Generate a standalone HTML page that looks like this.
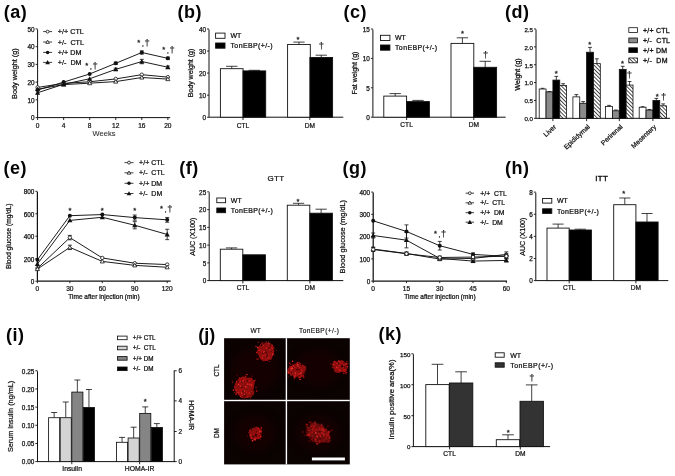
<!DOCTYPE html>
<html><head><meta charset="utf-8"><title>Figure</title>
<style>
html,body{margin:0;padding:0;background:#fff;}
body{width:675px;height:476px;overflow:hidden;}
svg{display:block;font-family:"Liberation Sans",sans-serif;}
</style></head><body>
<svg width="675" height="476" viewBox="0 0 675 476">
<rect width="675" height="476" fill="#fff"/>
<text x="3.70" y="17.80" font-size="18" text-anchor="start" font-weight="bold" fill="#050505" stroke="#050505" stroke-width="0" letter-spacing="0.5">(a)</text>
<line x1="37.60" y1="29.35" x2="37.60" y2="117.15" stroke="#111" stroke-width="1.0" />
<line x1="35.60" y1="117.60" x2="37.60" y2="117.60" stroke="#111" stroke-width="0.9" />
<text x="34.60" y="120.45" font-size="6.4" text-anchor="end" font-weight="normal" fill="#111" stroke="#111" stroke-width="0.25" >0</text>
<line x1="35.60" y1="99.86" x2="37.60" y2="99.86" stroke="#111" stroke-width="0.9" />
<text x="34.60" y="102.71" font-size="6.4" text-anchor="end" font-weight="normal" fill="#111" stroke="#111" stroke-width="0.25" >10</text>
<line x1="35.60" y1="82.12" x2="37.60" y2="82.12" stroke="#111" stroke-width="0.9" />
<text x="34.60" y="84.97" font-size="6.4" text-anchor="end" font-weight="normal" fill="#111" stroke="#111" stroke-width="0.25" >20</text>
<line x1="35.60" y1="64.38" x2="37.60" y2="64.38" stroke="#111" stroke-width="0.9" />
<text x="34.60" y="67.23" font-size="6.4" text-anchor="end" font-weight="normal" fill="#111" stroke="#111" stroke-width="0.25" >30</text>
<line x1="35.60" y1="46.64" x2="37.60" y2="46.64" stroke="#111" stroke-width="0.9" />
<text x="34.60" y="49.49" font-size="6.4" text-anchor="end" font-weight="normal" fill="#111" stroke="#111" stroke-width="0.25" >40</text>
<line x1="35.60" y1="28.90" x2="37.60" y2="28.90" stroke="#111" stroke-width="0.9" />
<text x="34.60" y="31.75" font-size="6.4" text-anchor="end" font-weight="normal" fill="#111" stroke="#111" stroke-width="0.25" >50</text>
<line x1="37.15" y1="117.60" x2="170.20" y2="117.60" stroke="#111" stroke-width="1.0" />
<line x1="37.60" y1="117.60" x2="37.60" y2="120.00" stroke="#111" stroke-width="0.9" />
<text x="37.60" y="127.50" font-size="6.6" text-anchor="middle" font-weight="normal" fill="#111" stroke="#111" stroke-width="0.22" >0</text>
<line x1="63.65" y1="117.60" x2="63.65" y2="120.00" stroke="#111" stroke-width="0.9" />
<text x="63.65" y="127.50" font-size="6.6" text-anchor="middle" font-weight="normal" fill="#111" stroke="#111" stroke-width="0.22" >4</text>
<line x1="89.70" y1="117.60" x2="89.70" y2="120.00" stroke="#111" stroke-width="0.9" />
<text x="89.70" y="127.50" font-size="6.6" text-anchor="middle" font-weight="normal" fill="#111" stroke="#111" stroke-width="0.22" >8</text>
<line x1="115.75" y1="117.60" x2="115.75" y2="120.00" stroke="#111" stroke-width="0.9" />
<text x="115.75" y="127.50" font-size="6.6" text-anchor="middle" font-weight="normal" fill="#111" stroke="#111" stroke-width="0.22" >12</text>
<line x1="141.80" y1="117.60" x2="141.80" y2="120.00" stroke="#111" stroke-width="0.9" />
<text x="141.80" y="127.50" font-size="6.6" text-anchor="middle" font-weight="normal" fill="#111" stroke="#111" stroke-width="0.22" >16</text>
<line x1="167.85" y1="117.60" x2="167.85" y2="120.00" stroke="#111" stroke-width="0.9" />
<text x="167.85" y="127.50" font-size="6.6" text-anchor="middle" font-weight="normal" fill="#111" stroke="#111" stroke-width="0.22" >20</text>
<text x="104.00" y="136.30" font-size="7.5" text-anchor="middle" font-weight="normal" fill="#333" stroke="#333" stroke-width="0.1" >Weeks</text>
<text x="17.20" y="73.60" font-size="7.3" text-anchor="middle" font-weight="normal" fill="#111" stroke="#111" stroke-width="0.24" transform="rotate(-90 17.20 73.60)" >Body weight (g)</text>
<polyline points="37.60,87.44 63.65,83.36 89.70,81.77 115.75,78.93 141.80,74.67 167.85,77.15" fill="none" stroke="#111" stroke-width="0.95"/>
<circle cx="37.60" cy="87.44" r="1.70" fill="#fff" stroke="#111" stroke-width="0.8"/>
<circle cx="63.65" cy="83.36" r="1.70" fill="#fff" stroke="#111" stroke-width="0.8"/>
<circle cx="89.70" cy="81.77" r="1.70" fill="#fff" stroke="#111" stroke-width="0.8"/>
<circle cx="115.75" cy="78.93" r="1.70" fill="#fff" stroke="#111" stroke-width="0.8"/>
<circle cx="141.80" cy="74.67" r="1.70" fill="#fff" stroke="#111" stroke-width="0.8"/>
<circle cx="167.85" cy="77.15" r="1.70" fill="#fff" stroke="#111" stroke-width="0.8"/>
<polyline points="37.60,89.22 63.65,84.60 89.70,83.18 115.75,81.59 141.80,77.51 167.85,79.10" fill="none" stroke="#111" stroke-width="0.95"/>
<polygon points="37.60,87.17 35.55,90.75 39.65,90.75" fill="#fff" stroke="#111" stroke-width="0.8"/>
<polygon points="63.65,82.55 61.60,86.14 65.70,86.14" fill="#fff" stroke="#111" stroke-width="0.8"/>
<polygon points="89.70,81.13 87.65,84.72 91.75,84.72" fill="#fff" stroke="#111" stroke-width="0.8"/>
<polygon points="115.75,79.54 113.70,83.13 117.80,83.13" fill="#fff" stroke="#111" stroke-width="0.8"/>
<polygon points="141.80,75.46 139.75,79.05 143.85,79.05" fill="#fff" stroke="#111" stroke-width="0.8"/>
<polygon points="167.85,77.05 165.80,80.64 169.90,80.64" fill="#fff" stroke="#111" stroke-width="0.8"/>
<polyline points="37.60,90.10 63.65,82.12 89.70,73.96 115.75,63.32 141.80,52.49 167.85,58.35" fill="none" stroke="#111" stroke-width="0.95"/>
<line x1="115.75" y1="62.12" x2="115.75" y2="64.52" stroke="#111" stroke-width="0.8" />
<line x1="113.75" y1="62.12" x2="117.75" y2="62.12" stroke="#111" stroke-width="0.8" />
<line x1="113.75" y1="64.52" x2="117.75" y2="64.52" stroke="#111" stroke-width="0.8" />
<line x1="141.80" y1="50.89" x2="141.80" y2="54.09" stroke="#111" stroke-width="0.8" />
<line x1="139.80" y1="50.89" x2="143.80" y2="50.89" stroke="#111" stroke-width="0.8" />
<line x1="139.80" y1="54.09" x2="143.80" y2="54.09" stroke="#111" stroke-width="0.8" />
<line x1="167.85" y1="57.15" x2="167.85" y2="59.55" stroke="#111" stroke-width="0.8" />
<line x1="165.85" y1="57.15" x2="169.85" y2="57.15" stroke="#111" stroke-width="0.8" />
<line x1="165.85" y1="59.55" x2="169.85" y2="59.55" stroke="#111" stroke-width="0.8" />
<circle cx="37.60" cy="90.10" r="2.00" fill="#111"/>
<circle cx="63.65" cy="82.12" r="2.00" fill="#111"/>
<circle cx="89.70" cy="73.96" r="2.00" fill="#111"/>
<circle cx="115.75" cy="63.32" r="2.00" fill="#111"/>
<circle cx="141.80" cy="52.49" r="2.00" fill="#111"/>
<circle cx="167.85" cy="58.35" r="2.00" fill="#111"/>
<polyline points="37.60,92.76 63.65,84.25 89.70,78.75 115.75,69.35 141.80,61.54 167.85,67.22" fill="none" stroke="#111" stroke-width="0.95"/>
<line x1="115.75" y1="68.15" x2="115.75" y2="70.55" stroke="#111" stroke-width="0.8" />
<line x1="113.75" y1="68.15" x2="117.75" y2="68.15" stroke="#111" stroke-width="0.8" />
<line x1="113.75" y1="70.55" x2="117.75" y2="70.55" stroke="#111" stroke-width="0.8" />
<line x1="141.80" y1="59.34" x2="141.80" y2="63.74" stroke="#111" stroke-width="0.8" />
<line x1="139.80" y1="59.34" x2="143.80" y2="59.34" stroke="#111" stroke-width="0.8" />
<line x1="139.80" y1="63.74" x2="143.80" y2="63.74" stroke="#111" stroke-width="0.8" />
<line x1="167.85" y1="66.02" x2="167.85" y2="68.42" stroke="#111" stroke-width="0.8" />
<line x1="165.85" y1="66.02" x2="169.85" y2="66.02" stroke="#111" stroke-width="0.8" />
<line x1="165.85" y1="68.42" x2="169.85" y2="68.42" stroke="#111" stroke-width="0.8" />
<polygon points="37.60,90.16 35.00,94.71 40.20,94.71" fill="#111"/>
<polygon points="63.65,81.65 61.05,86.20 66.25,86.20" fill="#111"/>
<polygon points="89.70,76.15 87.10,80.70 92.30,80.70" fill="#111"/>
<polygon points="115.75,66.75 113.15,71.30 118.35,71.30" fill="#111"/>
<polygon points="141.80,58.94 139.20,63.49 144.40,63.49" fill="#111"/>
<polygon points="167.85,64.62 165.25,69.17 170.45,69.17" fill="#111"/>
<line x1="43.10" y1="31.60" x2="52.10" y2="31.60" stroke="#111" stroke-width="0.8" />
<circle cx="47.60" cy="31.60" r="1.45" fill="#fff" stroke="#111" stroke-width="0.8"/>
<text x="57.80" y="34.10" font-size="7.2" text-anchor="start" font-weight="normal" fill="#111" stroke="#111" stroke-width="0.24" >+/+ CTL</text>
<line x1="43.10" y1="42.00" x2="52.10" y2="42.00" stroke="#111" stroke-width="0.8" />
<polygon points="47.60,40.20 45.80,43.35 49.40,43.35" fill="#fff" stroke="#111" stroke-width="0.8"/>
<text x="57.80" y="44.50" font-size="7.2" text-anchor="start" font-weight="normal" fill="#111" stroke="#111" stroke-width="0.24" >+/-&#160;&#160;CTL</text>
<line x1="43.10" y1="52.40" x2="52.10" y2="52.40" stroke="#111" stroke-width="0.8" />
<circle cx="47.60" cy="52.40" r="1.75" fill="#111"/>
<text x="57.80" y="54.90" font-size="7.2" text-anchor="start" font-weight="normal" fill="#111" stroke="#111" stroke-width="0.24" >+/+ DM</text>
<line x1="43.10" y1="62.40" x2="52.10" y2="62.40" stroke="#111" stroke-width="0.8" />
<polygon points="47.60,60.05 45.25,64.16 49.95,64.16" fill="#111"/>
<text x="57.80" y="64.90" font-size="7.2" text-anchor="start" font-weight="normal" fill="#111" stroke="#111" stroke-width="0.24" >+/-&#160;&#160;DM</text>
<text x="86.80" y="68.37" font-size="7.6" text-anchor="middle" font-weight="normal" fill="#222" stroke="#222" stroke-width="0.3" >*</text>
<text x="90.80" y="68.60" font-size="8" text-anchor="middle" font-weight="normal" fill="#222" stroke="#222" stroke-width="0.2" >,</text>
<text x="95.00" y="68.82" font-size="9.4" text-anchor="middle" font-weight="normal" fill="#222" stroke="#222" stroke-width="0.18" >†</text>
<text x="138.80" y="45.37" font-size="7.6" text-anchor="middle" font-weight="normal" fill="#222" stroke="#222" stroke-width="0.3" >*</text>
<text x="142.80" y="45.60" font-size="8" text-anchor="middle" font-weight="normal" fill="#222" stroke="#222" stroke-width="0.2" >,</text>
<text x="147.00" y="45.82" font-size="9.4" text-anchor="middle" font-weight="normal" fill="#222" stroke="#222" stroke-width="0.18" >†</text>
<text x="163.80" y="52.37" font-size="7.6" text-anchor="middle" font-weight="normal" fill="#222" stroke="#222" stroke-width="0.3" >*</text>
<text x="167.80" y="52.60" font-size="8" text-anchor="middle" font-weight="normal" fill="#222" stroke="#222" stroke-width="0.2" >,</text>
<text x="172.00" y="52.82" font-size="9.4" text-anchor="middle" font-weight="normal" fill="#222" stroke="#222" stroke-width="0.18" >†</text>
<text x="177.60" y="17.80" font-size="18" text-anchor="start" font-weight="bold" fill="#050505" stroke="#050505" stroke-width="0" letter-spacing="0.5">(b)</text>
<line x1="209.00" y1="29.45" x2="209.00" y2="116.75" stroke="#111" stroke-width="1.0" />
<line x1="207.00" y1="117.20" x2="209.00" y2="117.20" stroke="#111" stroke-width="0.9" />
<text x="206.00" y="120.05" font-size="6.4" text-anchor="end" font-weight="normal" fill="#111" stroke="#111" stroke-width="0.25" >0</text>
<line x1="207.00" y1="95.15" x2="209.00" y2="95.15" stroke="#111" stroke-width="0.9" />
<text x="206.00" y="98.00" font-size="6.4" text-anchor="end" font-weight="normal" fill="#111" stroke="#111" stroke-width="0.25" >10</text>
<line x1="207.00" y1="73.10" x2="209.00" y2="73.10" stroke="#111" stroke-width="0.9" />
<text x="206.00" y="75.95" font-size="6.4" text-anchor="end" font-weight="normal" fill="#111" stroke="#111" stroke-width="0.25" >20</text>
<line x1="207.00" y1="51.05" x2="209.00" y2="51.05" stroke="#111" stroke-width="0.9" />
<text x="206.00" y="53.90" font-size="6.4" text-anchor="end" font-weight="normal" fill="#111" stroke="#111" stroke-width="0.25" >30</text>
<line x1="207.00" y1="29.00" x2="209.00" y2="29.00" stroke="#111" stroke-width="0.9" />
<text x="206.00" y="31.85" font-size="6.4" text-anchor="end" font-weight="normal" fill="#111" stroke="#111" stroke-width="0.25" >40</text>
<line x1="208.55" y1="117.20" x2="343.30" y2="117.20" stroke="#111" stroke-width="1.0" />
<line x1="243.00" y1="117.20" x2="243.00" y2="120.00" stroke="#111" stroke-width="0.9" />
<text x="243.00" y="127.90" font-size="6.6" text-anchor="middle" font-weight="normal" fill="#111" stroke="#111" stroke-width="0.22" >CTL</text>
<line x1="309.80" y1="117.20" x2="309.80" y2="120.00" stroke="#111" stroke-width="0.9" />
<text x="309.80" y="127.90" font-size="6.6" text-anchor="middle" font-weight="normal" fill="#111" stroke="#111" stroke-width="0.22" >DM</text>
<text x="193.00" y="73.00" font-size="7" text-anchor="middle" font-weight="normal" fill="#111" stroke="#111" stroke-width="0.24" transform="rotate(-90 193.00 73.00)" >Body weight (g)</text>
<line x1="231.75" y1="68.69" x2="231.75" y2="66.30" stroke="#111" stroke-width="0.8" />
<line x1="226.07" y1="66.30" x2="237.43" y2="66.30" stroke="#111" stroke-width="0.8" />
<rect x="220.40" y="68.69" width="22.70" height="48.51" fill="#fff" stroke="#111" stroke-width="0.9" />
<line x1="254.35" y1="70.90" x2="254.35" y2="70.30" stroke="#111" stroke-width="0.8" />
<line x1="248.67" y1="70.30" x2="260.02" y2="70.30" stroke="#111" stroke-width="0.8" />
<rect x="243.00" y="70.90" width="22.70" height="46.30" fill="#000" stroke="#111" stroke-width="0.9" />
<line x1="298.95" y1="44.44" x2="298.95" y2="42.10" stroke="#111" stroke-width="0.8" />
<line x1="293.28" y1="42.10" x2="304.63" y2="42.10" stroke="#111" stroke-width="0.8" />
<rect x="287.60" y="44.44" width="22.70" height="72.77" fill="#fff" stroke="#111" stroke-width="0.9" />
<line x1="321.25" y1="57.44" x2="321.25" y2="55.20" stroke="#111" stroke-width="0.8" />
<line x1="315.57" y1="55.20" x2="326.93" y2="55.20" stroke="#111" stroke-width="0.8" />
<rect x="309.90" y="57.44" width="22.70" height="59.76" fill="#000" stroke="#111" stroke-width="0.9" />
<rect x="215.60" y="33.10" width="9.40" height="5.20" fill="#fff" stroke="#111" stroke-width="0.9" />
<text x="230.50" y="38.20" font-size="7.0" text-anchor="start" font-weight="normal" fill="#111" stroke="#111" stroke-width="0.24" >WT</text>
<rect x="215.60" y="43.00" width="9.40" height="5.20" fill="#000" stroke="#111" stroke-width="0.9" />
<text x="230.50" y="48.10" font-size="7.0" text-anchor="start" font-weight="normal" fill="#111" stroke="#111" stroke-width="0.24" letter-spacing="0.37">TonEBP(+/-)</text>
<text x="298.00" y="41.57" font-size="7.6" text-anchor="middle" font-weight="normal" fill="#222" stroke="#222" stroke-width="0.3" >*</text>
<text x="321.30" y="49.32" font-size="9.4" text-anchor="middle" font-weight="normal" fill="#222" stroke="#222" stroke-width="0.18" >†</text>
<text x="343.40" y="17.80" font-size="18" text-anchor="start" font-weight="bold" fill="#050505" stroke="#050505" stroke-width="0" letter-spacing="0.5">(c)</text>
<line x1="372.90" y1="29.45" x2="372.90" y2="116.75" stroke="#111" stroke-width="1.0" />
<line x1="370.90" y1="117.20" x2="372.90" y2="117.20" stroke="#111" stroke-width="0.9" />
<text x="369.90" y="120.05" font-size="6.4" text-anchor="end" font-weight="normal" fill="#111" stroke="#111" stroke-width="0.25" >0</text>
<line x1="370.90" y1="87.80" x2="372.90" y2="87.80" stroke="#111" stroke-width="0.9" />
<text x="369.90" y="90.65" font-size="6.4" text-anchor="end" font-weight="normal" fill="#111" stroke="#111" stroke-width="0.25" >5</text>
<line x1="370.90" y1="58.40" x2="372.90" y2="58.40" stroke="#111" stroke-width="0.9" />
<text x="369.90" y="61.25" font-size="6.4" text-anchor="end" font-weight="normal" fill="#111" stroke="#111" stroke-width="0.25" >10</text>
<line x1="370.90" y1="29.00" x2="372.90" y2="29.00" stroke="#111" stroke-width="0.9" />
<text x="369.90" y="31.85" font-size="6.4" text-anchor="end" font-weight="normal" fill="#111" stroke="#111" stroke-width="0.25" >15</text>
<line x1="372.45" y1="117.20" x2="505.70" y2="117.20" stroke="#111" stroke-width="1.0" />
<line x1="406.60" y1="117.20" x2="406.60" y2="120.00" stroke="#111" stroke-width="0.9" />
<text x="406.60" y="126.90" font-size="6.6" text-anchor="middle" font-weight="normal" fill="#111" stroke="#111" stroke-width="0.22" >CTL</text>
<line x1="473.80" y1="117.20" x2="473.80" y2="120.00" stroke="#111" stroke-width="0.9" />
<text x="473.80" y="126.90" font-size="6.6" text-anchor="middle" font-weight="normal" fill="#111" stroke="#111" stroke-width="0.22" >DM</text>
<text x="357.40" y="73.00" font-size="7" text-anchor="middle" font-weight="normal" fill="#111" stroke="#111" stroke-width="0.24" transform="rotate(-90 357.40 73.00)" >Fat weight (g)</text>
<line x1="395.20" y1="96.10" x2="395.20" y2="93.60" stroke="#111" stroke-width="0.8" />
<line x1="389.50" y1="93.60" x2="400.90" y2="93.60" stroke="#111" stroke-width="0.8" />
<rect x="383.80" y="96.10" width="22.80" height="21.10" fill="#fff" stroke="#111" stroke-width="0.9" />
<line x1="418.00" y1="101.60" x2="418.00" y2="100.40" stroke="#111" stroke-width="0.8" />
<line x1="412.30" y1="100.40" x2="423.70" y2="100.40" stroke="#111" stroke-width="0.8" />
<rect x="406.60" y="101.60" width="22.80" height="15.60" fill="#000" stroke="#111" stroke-width="0.9" />
<line x1="462.40" y1="43.40" x2="462.40" y2="37.80" stroke="#111" stroke-width="0.8" />
<line x1="456.70" y1="37.80" x2="468.10" y2="37.80" stroke="#111" stroke-width="0.8" />
<rect x="451.00" y="43.40" width="22.80" height="73.80" fill="#fff" stroke="#111" stroke-width="0.9" />
<line x1="485.20" y1="67.30" x2="485.20" y2="61.30" stroke="#111" stroke-width="0.8" />
<line x1="479.50" y1="61.30" x2="490.90" y2="61.30" stroke="#111" stroke-width="0.8" />
<rect x="473.80" y="67.30" width="22.80" height="49.90" fill="#000" stroke="#111" stroke-width="0.9" />
<rect x="380.50" y="35.30" width="9.40" height="5.20" fill="#fff" stroke="#111" stroke-width="0.9" />
<text x="395.00" y="40.40" font-size="7.0" text-anchor="start" font-weight="normal" fill="#111" stroke="#111" stroke-width="0.24" >WT</text>
<rect x="380.50" y="45.00" width="9.40" height="5.20" fill="#000" stroke="#111" stroke-width="0.9" />
<text x="395.00" y="50.10" font-size="7.0" text-anchor="start" font-weight="normal" fill="#111" stroke="#111" stroke-width="0.24" letter-spacing="0.37">TonEBP(+/-)</text>
<text x="462.40" y="36.07" font-size="7.6" text-anchor="middle" font-weight="normal" fill="#222" stroke="#222" stroke-width="0.3" >*</text>
<text x="485.60" y="58.42" font-size="9.4" text-anchor="middle" font-weight="normal" fill="#222" stroke="#222" stroke-width="0.18" >†</text>
<text x="505.00" y="17.80" font-size="18" text-anchor="start" font-weight="bold" fill="#050505" stroke="#050505" stroke-width="0" letter-spacing="0.5">(d)</text>
<defs><pattern id="hatch" patternUnits="userSpaceOnUse" width="2.7" height="2.7" patternTransform="rotate(45)"><rect width="2.7" height="2.7" fill="#fff"/><line x1="0" y1="1.35" x2="2.7" y2="1.35" stroke="#111" stroke-width="0.75"/></pattern></defs>
<line x1="536.00" y1="29.45" x2="536.00" y2="117.85" stroke="#111" stroke-width="1.0" />
<line x1="534.00" y1="118.30" x2="536.00" y2="118.30" stroke="#111" stroke-width="0.9" />
<text x="533.00" y="121.15" font-size="6.2" text-anchor="end" font-weight="normal" fill="#111" stroke="#111" stroke-width="0.25" >0.0</text>
<line x1="534.00" y1="100.44" x2="536.00" y2="100.44" stroke="#111" stroke-width="0.9" />
<text x="533.00" y="103.29" font-size="6.2" text-anchor="end" font-weight="normal" fill="#111" stroke="#111" stroke-width="0.25" >0.5</text>
<line x1="534.00" y1="82.58" x2="536.00" y2="82.58" stroke="#111" stroke-width="0.9" />
<text x="533.00" y="85.43" font-size="6.2" text-anchor="end" font-weight="normal" fill="#111" stroke="#111" stroke-width="0.25" >1.0</text>
<line x1="534.00" y1="64.72" x2="536.00" y2="64.72" stroke="#111" stroke-width="0.9" />
<text x="533.00" y="67.57" font-size="6.2" text-anchor="end" font-weight="normal" fill="#111" stroke="#111" stroke-width="0.25" >1.5</text>
<line x1="534.00" y1="46.86" x2="536.00" y2="46.86" stroke="#111" stroke-width="0.9" />
<text x="533.00" y="49.71" font-size="6.2" text-anchor="end" font-weight="normal" fill="#111" stroke="#111" stroke-width="0.25" >2.0</text>
<line x1="534.00" y1="29.00" x2="536.00" y2="29.00" stroke="#111" stroke-width="0.9" />
<text x="533.00" y="31.85" font-size="6.2" text-anchor="end" font-weight="normal" fill="#111" stroke="#111" stroke-width="0.25" >2.5</text>
<line x1="535.55" y1="118.30" x2="670.00" y2="118.30" stroke="#111" stroke-width="1.0" />
<line x1="552.90" y1="118.30" x2="552.90" y2="121.10" stroke="#111" stroke-width="0.9" />
<line x1="586.60" y1="118.30" x2="586.60" y2="121.10" stroke="#111" stroke-width="0.9" />
<line x1="619.30" y1="118.30" x2="619.30" y2="121.10" stroke="#111" stroke-width="0.9" />
<line x1="652.90" y1="118.30" x2="652.90" y2="121.10" stroke="#111" stroke-width="0.9" />
<text x="520.00" y="74.40" font-size="7.0" text-anchor="middle" font-weight="normal" fill="#111" stroke="#111" stroke-width="0.3" transform="rotate(-90 520.00 74.40)" >Weight (g)</text>
<line x1="542.62" y1="89.01" x2="542.62" y2="88.30" stroke="#111" stroke-width="0.8" />
<line x1="540.73" y1="88.30" x2="544.52" y2="88.30" stroke="#111" stroke-width="0.8" />
<rect x="539.20" y="89.01" width="6.85" height="29.29" fill="#fff" stroke="#111" stroke-width="0.8" />
<line x1="549.48" y1="91.87" x2="549.48" y2="91.50" stroke="#111" stroke-width="0.8" />
<line x1="547.58" y1="91.50" x2="551.38" y2="91.50" stroke="#111" stroke-width="0.8" />
<rect x="546.05" y="91.87" width="6.85" height="26.43" fill="#8a8a8a" stroke="#111" stroke-width="0.8" />
<line x1="556.33" y1="80.08" x2="556.33" y2="76.40" stroke="#111" stroke-width="0.8" />
<line x1="554.43" y1="76.40" x2="558.23" y2="76.40" stroke="#111" stroke-width="0.8" />
<rect x="552.90" y="80.08" width="6.85" height="38.22" fill="#000" stroke="#111" stroke-width="0.8" />
<line x1="563.17" y1="85.44" x2="563.17" y2="83.70" stroke="#111" stroke-width="0.8" />
<line x1="561.27" y1="83.70" x2="565.07" y2="83.70" stroke="#111" stroke-width="0.8" />
<rect x="559.75" y="85.44" width="6.85" height="32.86" fill="url(#hatch)" stroke="#111" stroke-width="0.8" />
<line x1="576.32" y1="96.87" x2="576.32" y2="94.60" stroke="#111" stroke-width="0.8" />
<line x1="574.42" y1="94.60" x2="578.22" y2="94.60" stroke="#111" stroke-width="0.8" />
<rect x="572.90" y="96.87" width="6.85" height="21.43" fill="#fff" stroke="#111" stroke-width="0.8" />
<line x1="583.17" y1="103.30" x2="583.17" y2="101.60" stroke="#111" stroke-width="0.8" />
<line x1="581.27" y1="101.60" x2="585.07" y2="101.60" stroke="#111" stroke-width="0.8" />
<rect x="579.75" y="103.30" width="6.85" height="15.00" fill="#8a8a8a" stroke="#111" stroke-width="0.8" />
<line x1="590.02" y1="52.22" x2="590.02" y2="47.40" stroke="#111" stroke-width="0.8" />
<line x1="588.12" y1="47.40" x2="591.92" y2="47.40" stroke="#111" stroke-width="0.8" />
<rect x="586.60" y="52.22" width="6.85" height="66.08" fill="#000" stroke="#111" stroke-width="0.8" />
<line x1="596.87" y1="63.65" x2="596.87" y2="58.80" stroke="#111" stroke-width="0.8" />
<line x1="594.97" y1="58.80" x2="598.77" y2="58.80" stroke="#111" stroke-width="0.8" />
<rect x="593.45" y="63.65" width="6.85" height="54.65" fill="url(#hatch)" stroke="#111" stroke-width="0.8" />
<line x1="609.02" y1="106.51" x2="609.02" y2="105.40" stroke="#111" stroke-width="0.8" />
<line x1="607.12" y1="105.40" x2="610.92" y2="105.40" stroke="#111" stroke-width="0.8" />
<rect x="605.60" y="106.51" width="6.85" height="11.79" fill="#fff" stroke="#111" stroke-width="0.8" />
<line x1="615.88" y1="110.80" x2="615.88" y2="110.00" stroke="#111" stroke-width="0.8" />
<line x1="613.98" y1="110.00" x2="617.77" y2="110.00" stroke="#111" stroke-width="0.8" />
<rect x="612.45" y="110.80" width="6.85" height="7.50" fill="#8a8a8a" stroke="#111" stroke-width="0.8" />
<line x1="622.73" y1="69.36" x2="622.73" y2="66.30" stroke="#111" stroke-width="0.8" />
<line x1="620.83" y1="66.30" x2="624.62" y2="66.30" stroke="#111" stroke-width="0.8" />
<rect x="619.30" y="69.36" width="6.85" height="48.94" fill="#000" stroke="#111" stroke-width="0.8" />
<line x1="629.57" y1="85.08" x2="629.57" y2="81.50" stroke="#111" stroke-width="0.8" />
<line x1="627.67" y1="81.50" x2="631.47" y2="81.50" stroke="#111" stroke-width="0.8" />
<rect x="626.15" y="85.08" width="6.85" height="33.22" fill="url(#hatch)" stroke="#111" stroke-width="0.8" />
<line x1="642.62" y1="107.23" x2="642.62" y2="106.70" stroke="#111" stroke-width="0.8" />
<line x1="640.73" y1="106.70" x2="644.52" y2="106.70" stroke="#111" stroke-width="0.8" />
<rect x="639.20" y="107.23" width="6.85" height="11.07" fill="#fff" stroke="#111" stroke-width="0.8" />
<line x1="649.48" y1="110.08" x2="649.48" y2="109.50" stroke="#111" stroke-width="0.8" />
<line x1="647.58" y1="109.50" x2="651.38" y2="109.50" stroke="#111" stroke-width="0.8" />
<rect x="646.05" y="110.08" width="6.85" height="8.22" fill="#8a8a8a" stroke="#111" stroke-width="0.8" />
<line x1="656.33" y1="100.44" x2="656.33" y2="98.40" stroke="#111" stroke-width="0.8" />
<line x1="654.43" y1="98.40" x2="658.23" y2="98.40" stroke="#111" stroke-width="0.8" />
<rect x="652.90" y="100.44" width="6.85" height="17.86" fill="#000" stroke="#111" stroke-width="0.8" />
<line x1="663.17" y1="105.80" x2="663.17" y2="103.90" stroke="#111" stroke-width="0.8" />
<line x1="661.27" y1="103.90" x2="665.07" y2="103.90" stroke="#111" stroke-width="0.8" />
<rect x="659.75" y="105.80" width="6.85" height="12.50" fill="url(#hatch)" stroke="#111" stroke-width="0.8" />
<text x="556.70" y="127.40" font-size="6.7" text-anchor="end" font-weight="normal" fill="#111" stroke="#111" stroke-width="0.24" transform="rotate(-43 556.70 127.40)" >Liver</text>
<text x="590.40" y="127.40" font-size="6.7" text-anchor="end" font-weight="normal" fill="#111" stroke="#111" stroke-width="0.24" transform="rotate(-43 590.40 127.40)" >Epididymal</text>
<text x="623.10" y="127.40" font-size="6.7" text-anchor="end" font-weight="normal" fill="#111" stroke="#111" stroke-width="0.24" transform="rotate(-43 623.10 127.40)" >Perirenal</text>
<text x="656.70" y="127.40" font-size="6.7" text-anchor="end" font-weight="normal" fill="#111" stroke="#111" stroke-width="0.24" transform="rotate(-43 656.70 127.40)" >Mesentery</text>
<rect x="628.80" y="27.70" width="8.60" height="4.80" fill="#fff" stroke="#111" stroke-width="0.8" />
<text x="643.00" y="32.60" font-size="7.0" text-anchor="start" font-weight="normal" fill="#111" stroke="#111" stroke-width="0.3" letter-spacing="0.22">+/+ CTL</text>
<rect x="628.80" y="38.00" width="8.60" height="4.80" fill="#8a8a8a" stroke="#111" stroke-width="0.8" />
<text x="643.00" y="42.90" font-size="7.0" text-anchor="start" font-weight="normal" fill="#111" stroke="#111" stroke-width="0.3" letter-spacing="0.22">+/-&#160;&#160;CTL</text>
<rect x="628.80" y="47.80" width="8.60" height="4.80" fill="#000" stroke="#111" stroke-width="0.8" />
<text x="643.00" y="52.70" font-size="7.0" text-anchor="start" font-weight="normal" fill="#111" stroke="#111" stroke-width="0.3" letter-spacing="0.22">+/+ DM</text>
<rect x="628.80" y="58.00" width="8.60" height="4.80" fill="url(#hatch)" stroke="#111" stroke-width="0.8" />
<text x="643.00" y="62.90" font-size="7.0" text-anchor="start" font-weight="normal" fill="#111" stroke="#111" stroke-width="0.3" letter-spacing="0.22">+/-&#160;&#160;DM</text>
<text x="556.20" y="76.37" font-size="7.6" text-anchor="middle" font-weight="normal" fill="#222" stroke="#222" stroke-width="0.3" >*</text>
<text x="589.80" y="46.57" font-size="7.6" text-anchor="middle" font-weight="normal" fill="#222" stroke="#222" stroke-width="0.3" >*</text>
<text x="622.60" y="65.57" font-size="7.6" text-anchor="middle" font-weight="normal" fill="#222" stroke="#222" stroke-width="0.3" >*</text>
<text x="629.40" y="78.42" font-size="9.4" text-anchor="middle" font-weight="normal" fill="#222" stroke="#222" stroke-width="0.18" >†</text>
<text x="657.30" y="98.77" font-size="7.6" text-anchor="middle" font-weight="normal" fill="#222" stroke="#222" stroke-width="0.3" >*</text>
<text x="663.60" y="100.22" font-size="9.4" text-anchor="middle" font-weight="normal" fill="#222" stroke="#222" stroke-width="0.18" >†</text>
<text x="3.60" y="173.80" font-size="18" text-anchor="start" font-weight="bold" fill="#050505" stroke="#050505" stroke-width="0" letter-spacing="0.5">(e)</text>
<line x1="37.40" y1="191.75" x2="37.40" y2="280.75" stroke="#111" stroke-width="1.25" />
<line x1="35.40" y1="281.20" x2="37.40" y2="281.20" stroke="#111" stroke-width="0.9" />
<text x="34.40" y="284.05" font-size="6.4" text-anchor="end" font-weight="normal" fill="#111" stroke="#111" stroke-width="0.25" >0</text>
<line x1="35.40" y1="258.73" x2="37.40" y2="258.73" stroke="#111" stroke-width="0.9" />
<text x="34.40" y="261.58" font-size="6.4" text-anchor="end" font-weight="normal" fill="#111" stroke="#111" stroke-width="0.25" >200</text>
<line x1="35.40" y1="236.25" x2="37.40" y2="236.25" stroke="#111" stroke-width="0.9" />
<text x="34.40" y="239.10" font-size="6.4" text-anchor="end" font-weight="normal" fill="#111" stroke="#111" stroke-width="0.25" >400</text>
<line x1="35.40" y1="213.78" x2="37.40" y2="213.78" stroke="#111" stroke-width="0.9" />
<text x="34.40" y="216.62" font-size="6.4" text-anchor="end" font-weight="normal" fill="#111" stroke="#111" stroke-width="0.25" >600</text>
<line x1="35.40" y1="191.30" x2="37.40" y2="191.30" stroke="#111" stroke-width="0.9" />
<text x="34.40" y="194.15" font-size="6.4" text-anchor="end" font-weight="normal" fill="#111" stroke="#111" stroke-width="0.25" >800</text>
<line x1="36.95" y1="281.20" x2="170.70" y2="281.20" stroke="#111" stroke-width="1.3" />
<line x1="37.40" y1="281.20" x2="37.40" y2="283.20" stroke="#111" stroke-width="0.9" />
<text x="37.40" y="290.70" font-size="6.6" text-anchor="middle" font-weight="normal" fill="#111" stroke="#111" stroke-width="0.22" >0</text>
<line x1="69.85" y1="281.20" x2="69.85" y2="283.20" stroke="#111" stroke-width="0.9" />
<text x="69.85" y="290.70" font-size="6.6" text-anchor="middle" font-weight="normal" fill="#111" stroke="#111" stroke-width="0.22" >30</text>
<line x1="102.30" y1="281.20" x2="102.30" y2="283.20" stroke="#111" stroke-width="0.9" />
<text x="102.30" y="290.70" font-size="6.6" text-anchor="middle" font-weight="normal" fill="#111" stroke="#111" stroke-width="0.22" >60</text>
<line x1="134.75" y1="281.20" x2="134.75" y2="283.20" stroke="#111" stroke-width="0.9" />
<text x="134.75" y="290.70" font-size="6.6" text-anchor="middle" font-weight="normal" fill="#111" stroke="#111" stroke-width="0.22" >90</text>
<line x1="167.20" y1="281.20" x2="167.20" y2="283.20" stroke="#111" stroke-width="0.9" />
<text x="167.20" y="290.70" font-size="6.6" text-anchor="middle" font-weight="normal" fill="#111" stroke="#111" stroke-width="0.22" >120</text>
<text x="104.00" y="299.00" font-size="6.5" text-anchor="middle" font-weight="normal" fill="#111" stroke="#111" stroke-width="0.24" >Time after injection (min)</text>
<text x="11.00" y="236.20" font-size="6.55" text-anchor="middle" font-weight="normal" fill="#111" stroke="#111" stroke-width="0.24" transform="rotate(-90 11.00 236.20)" >Blood glucose (mg/dL)</text>
<polyline points="37.40,268.39 69.85,237.60 102.30,257.94 134.75,263.22 167.20,264.57" fill="none" stroke="#111" stroke-width="0.95"/>
<line x1="69.85" y1="235.40" x2="69.85" y2="239.80" stroke="#111" stroke-width="0.8" />
<line x1="67.85" y1="235.40" x2="71.85" y2="235.40" stroke="#111" stroke-width="0.8" />
<line x1="67.85" y1="239.80" x2="71.85" y2="239.80" stroke="#111" stroke-width="0.8" />
<circle cx="37.40" cy="268.39" r="1.70" fill="#fff" stroke="#111" stroke-width="0.8"/>
<circle cx="69.85" cy="237.60" r="1.70" fill="#fff" stroke="#111" stroke-width="0.8"/>
<circle cx="102.30" cy="257.94" r="1.70" fill="#fff" stroke="#111" stroke-width="0.8"/>
<circle cx="134.75" cy="263.22" r="1.70" fill="#fff" stroke="#111" stroke-width="0.8"/>
<circle cx="167.20" cy="264.57" r="1.70" fill="#fff" stroke="#111" stroke-width="0.8"/>
<polyline points="37.40,269.06 69.85,247.38 102.30,261.42 134.75,265.36 167.20,267.27" fill="none" stroke="#111" stroke-width="0.95"/>
<line x1="69.85" y1="245.18" x2="69.85" y2="249.58" stroke="#111" stroke-width="0.8" />
<line x1="67.85" y1="245.18" x2="71.85" y2="245.18" stroke="#111" stroke-width="0.8" />
<line x1="67.85" y1="249.58" x2="71.85" y2="249.58" stroke="#111" stroke-width="0.8" />
<polygon points="37.40,267.01 35.35,270.60 39.45,270.60" fill="#fff" stroke="#111" stroke-width="0.8"/>
<polygon points="69.85,245.33 67.80,248.91 71.90,248.91" fill="#fff" stroke="#111" stroke-width="0.8"/>
<polygon points="102.30,259.37 100.25,262.96 104.35,262.96" fill="#fff" stroke="#111" stroke-width="0.8"/>
<polygon points="134.75,263.31 132.70,266.89 136.80,266.89" fill="#fff" stroke="#111" stroke-width="0.8"/>
<polygon points="167.20,265.22 165.15,268.80 169.25,268.80" fill="#fff" stroke="#111" stroke-width="0.8"/>
<polyline points="37.40,259.85 69.85,215.69 102.30,214.56 134.75,217.60 167.20,219.84" fill="none" stroke="#111" stroke-width="0.95"/>
<line x1="134.75" y1="215.00" x2="134.75" y2="220.20" stroke="#111" stroke-width="0.8" />
<line x1="132.75" y1="215.00" x2="136.75" y2="215.00" stroke="#111" stroke-width="0.8" />
<line x1="132.75" y1="220.20" x2="136.75" y2="220.20" stroke="#111" stroke-width="0.8" />
<line x1="167.20" y1="217.44" x2="167.20" y2="222.24" stroke="#111" stroke-width="0.8" />
<line x1="165.20" y1="217.44" x2="169.20" y2="217.44" stroke="#111" stroke-width="0.8" />
<line x1="165.20" y1="222.24" x2="169.20" y2="222.24" stroke="#111" stroke-width="0.8" />
<circle cx="37.40" cy="259.85" r="2.00" fill="#111"/>
<circle cx="69.85" cy="215.69" r="2.00" fill="#111"/>
<circle cx="102.30" cy="214.56" r="2.00" fill="#111"/>
<circle cx="134.75" cy="217.60" r="2.00" fill="#111"/>
<circle cx="167.20" cy="219.84" r="2.00" fill="#111"/>
<polyline points="37.40,264.01 69.85,220.41 102.30,217.26 134.75,225.24 167.20,234.45" fill="none" stroke="#111" stroke-width="0.95"/>
<line x1="134.75" y1="221.64" x2="134.75" y2="228.84" stroke="#111" stroke-width="0.8" />
<line x1="132.75" y1="221.64" x2="136.75" y2="221.64" stroke="#111" stroke-width="0.8" />
<line x1="132.75" y1="228.84" x2="136.75" y2="228.84" stroke="#111" stroke-width="0.8" />
<line x1="167.20" y1="229.25" x2="167.20" y2="239.65" stroke="#111" stroke-width="0.8" />
<line x1="165.20" y1="229.25" x2="169.20" y2="229.25" stroke="#111" stroke-width="0.8" />
<line x1="165.20" y1="239.65" x2="169.20" y2="239.65" stroke="#111" stroke-width="0.8" />
<polygon points="37.40,261.41 34.80,265.96 40.00,265.96" fill="#111"/>
<polygon points="69.85,217.81 67.25,222.36 72.45,222.36" fill="#111"/>
<polygon points="102.30,214.66 99.70,219.21 104.90,219.21" fill="#111"/>
<polygon points="134.75,222.64 132.15,227.19 137.35,227.19" fill="#111"/>
<polygon points="167.20,231.85 164.60,236.40 169.80,236.40" fill="#111"/>
<line x1="124.50" y1="162.60" x2="133.50" y2="162.60" stroke="#111" stroke-width="0.8" />
<circle cx="129.00" cy="162.60" r="1.45" fill="#fff" stroke="#111" stroke-width="0.8"/>
<text x="139.10" y="165.10" font-size="7.0" text-anchor="start" font-weight="normal" fill="#111" stroke="#111" stroke-width="0.24" >+/+ CTL</text>
<line x1="124.50" y1="172.80" x2="133.50" y2="172.80" stroke="#111" stroke-width="0.8" />
<polygon points="129.00,171.00 127.20,174.15 130.80,174.15" fill="#fff" stroke="#111" stroke-width="0.8"/>
<text x="139.10" y="175.30" font-size="7.0" text-anchor="start" font-weight="normal" fill="#111" stroke="#111" stroke-width="0.24" >+/-&#160;&#160;CTL</text>
<line x1="124.50" y1="183.30" x2="133.50" y2="183.30" stroke="#111" stroke-width="0.8" />
<circle cx="129.00" cy="183.30" r="1.75" fill="#111"/>
<text x="139.10" y="185.80" font-size="7.0" text-anchor="start" font-weight="normal" fill="#111" stroke="#111" stroke-width="0.24" >+/+ DM</text>
<line x1="124.50" y1="193.50" x2="133.50" y2="193.50" stroke="#111" stroke-width="0.8" />
<polygon points="129.00,191.15 126.65,195.26 131.35,195.26" fill="#111"/>
<text x="139.10" y="196.00" font-size="7.0" text-anchor="start" font-weight="normal" fill="#111" stroke="#111" stroke-width="0.24" >+/-&#160;&#160;DM</text>
<text x="69.90" y="212.87" font-size="7.6" text-anchor="middle" font-weight="normal" fill="#222" stroke="#222" stroke-width="0.3" >*</text>
<text x="102.20" y="212.87" font-size="7.6" text-anchor="middle" font-weight="normal" fill="#222" stroke="#222" stroke-width="0.3" >*</text>
<text x="134.80" y="212.87" font-size="7.6" text-anchor="middle" font-weight="normal" fill="#222" stroke="#222" stroke-width="0.3" >*</text>
<text x="161.60" y="211.37" font-size="7.6" text-anchor="middle" font-weight="normal" fill="#222" stroke="#222" stroke-width="0.3" >*</text>
<text x="165.60" y="211.60" font-size="8" text-anchor="middle" font-weight="normal" fill="#222" stroke="#222" stroke-width="0.2" >,</text>
<text x="169.80" y="211.82" font-size="9.4" text-anchor="middle" font-weight="normal" fill="#222" stroke="#222" stroke-width="0.18" >†</text>
<text x="179.20" y="173.80" font-size="18" text-anchor="start" font-weight="bold" fill="#050505" stroke="#050505" stroke-width="0" letter-spacing="0.5">(f)</text>
<text x="276.00" y="181.00" font-size="8" text-anchor="middle" font-weight="normal" fill="#111" stroke="#111" stroke-width="0.24" letter-spacing="0.4">GTT</text>
<line x1="209.20" y1="192.30" x2="209.20" y2="280.15" stroke="#111" stroke-width="1.0" />
<line x1="207.20" y1="280.60" x2="209.20" y2="280.60" stroke="#111" stroke-width="0.9" />
<text x="206.20" y="283.45" font-size="6.4" text-anchor="end" font-weight="normal" fill="#111" stroke="#111" stroke-width="0.25" >0</text>
<line x1="207.20" y1="262.85" x2="209.20" y2="262.85" stroke="#111" stroke-width="0.9" />
<text x="206.20" y="265.70" font-size="6.4" text-anchor="end" font-weight="normal" fill="#111" stroke="#111" stroke-width="0.25" >5</text>
<line x1="207.20" y1="245.10" x2="209.20" y2="245.10" stroke="#111" stroke-width="0.9" />
<text x="206.20" y="247.95" font-size="6.4" text-anchor="end" font-weight="normal" fill="#111" stroke="#111" stroke-width="0.25" >10</text>
<line x1="207.20" y1="227.35" x2="209.20" y2="227.35" stroke="#111" stroke-width="0.9" />
<text x="206.20" y="230.20" font-size="6.4" text-anchor="end" font-weight="normal" fill="#111" stroke="#111" stroke-width="0.25" >15</text>
<line x1="207.20" y1="209.60" x2="209.20" y2="209.60" stroke="#111" stroke-width="0.9" />
<text x="206.20" y="212.45" font-size="6.4" text-anchor="end" font-weight="normal" fill="#111" stroke="#111" stroke-width="0.25" >20</text>
<line x1="207.20" y1="191.85" x2="209.20" y2="191.85" stroke="#111" stroke-width="0.9" />
<text x="206.20" y="194.70" font-size="6.4" text-anchor="end" font-weight="normal" fill="#111" stroke="#111" stroke-width="0.25" >25</text>
<line x1="208.75" y1="280.60" x2="343.30" y2="280.60" stroke="#111" stroke-width="1.0" />
<line x1="242.90" y1="280.60" x2="242.90" y2="283.40" stroke="#111" stroke-width="0.9" />
<text x="242.90" y="290.30" font-size="6.6" text-anchor="middle" font-weight="normal" fill="#111" stroke="#111" stroke-width="0.22" >CTL</text>
<line x1="309.90" y1="280.60" x2="309.90" y2="283.40" stroke="#111" stroke-width="0.9" />
<text x="309.90" y="290.30" font-size="6.6" text-anchor="middle" font-weight="normal" fill="#111" stroke="#111" stroke-width="0.22" >DM</text>
<text x="194.60" y="236.70" font-size="7.1" text-anchor="middle" font-weight="normal" fill="#111" stroke="#111" stroke-width="0.24" transform="rotate(-90 194.60 236.70)" >AUC (X100)</text>
<line x1="231.55" y1="249.20" x2="231.55" y2="247.90" stroke="#111" stroke-width="0.8" />
<line x1="225.93" y1="247.90" x2="237.18" y2="247.90" stroke="#111" stroke-width="0.8" />
<rect x="220.30" y="249.20" width="22.50" height="31.40" fill="#fff" stroke="#111" stroke-width="0.9" />
<rect x="242.90" y="254.80" width="22.50" height="25.80" fill="#000" stroke="#111" stroke-width="0.9" />
<line x1="298.55" y1="205.20" x2="298.55" y2="203.30" stroke="#111" stroke-width="0.8" />
<line x1="292.93" y1="203.30" x2="304.18" y2="203.30" stroke="#111" stroke-width="0.8" />
<rect x="287.30" y="205.20" width="22.50" height="75.40" fill="#fff" stroke="#111" stroke-width="0.9" />
<line x1="321.15" y1="213.20" x2="321.15" y2="209.20" stroke="#111" stroke-width="0.8" />
<line x1="315.52" y1="209.20" x2="326.77" y2="209.20" stroke="#111" stroke-width="0.8" />
<rect x="309.90" y="213.20" width="22.50" height="67.40" fill="#000" stroke="#111" stroke-width="0.9" />
<rect x="216.80" y="198.00" width="8.80" height="4.70" fill="#fff" stroke="#111" stroke-width="0.9" />
<text x="230.80" y="202.85" font-size="7.0" text-anchor="start" font-weight="normal" fill="#111" stroke="#111" stroke-width="0.24" >WT</text>
<rect x="216.80" y="208.00" width="8.80" height="4.70" fill="#000" stroke="#111" stroke-width="0.9" />
<text x="230.80" y="212.85" font-size="7.0" text-anchor="start" font-weight="normal" fill="#111" stroke="#111" stroke-width="0.24" letter-spacing="0.37">TonEBP(+/-)</text>
<text x="298.00" y="203.57" font-size="7.6" text-anchor="middle" font-weight="normal" fill="#222" stroke="#222" stroke-width="0.3" >*</text>
<text x="342.40" y="174.40" font-size="18" text-anchor="start" font-weight="bold" fill="#050505" stroke="#050505" stroke-width="0" letter-spacing="0.5">(g)</text>
<line x1="373.20" y1="192.55" x2="373.20" y2="280.65" stroke="#111" stroke-width="1.25" />
<line x1="371.20" y1="281.10" x2="373.20" y2="281.10" stroke="#111" stroke-width="0.9" />
<text x="370.20" y="283.95" font-size="6.4" text-anchor="end" font-weight="normal" fill="#111" stroke="#111" stroke-width="0.25" >0</text>
<line x1="371.20" y1="258.85" x2="373.20" y2="258.85" stroke="#111" stroke-width="0.9" />
<text x="370.20" y="261.70" font-size="6.4" text-anchor="end" font-weight="normal" fill="#111" stroke="#111" stroke-width="0.25" >100</text>
<line x1="371.20" y1="236.60" x2="373.20" y2="236.60" stroke="#111" stroke-width="0.9" />
<text x="370.20" y="239.45" font-size="6.4" text-anchor="end" font-weight="normal" fill="#111" stroke="#111" stroke-width="0.25" >200</text>
<line x1="371.20" y1="214.35" x2="373.20" y2="214.35" stroke="#111" stroke-width="0.9" />
<text x="370.20" y="217.20" font-size="6.4" text-anchor="end" font-weight="normal" fill="#111" stroke="#111" stroke-width="0.25" >300</text>
<line x1="371.20" y1="192.10" x2="373.20" y2="192.10" stroke="#111" stroke-width="0.9" />
<text x="370.20" y="194.95" font-size="6.4" text-anchor="end" font-weight="normal" fill="#111" stroke="#111" stroke-width="0.25" >400</text>
<line x1="372.75" y1="281.10" x2="507.00" y2="281.10" stroke="#111" stroke-width="1.3" />
<line x1="373.20" y1="281.10" x2="373.20" y2="283.10" stroke="#111" stroke-width="0.9" />
<text x="373.20" y="290.90" font-size="6.6" text-anchor="middle" font-weight="normal" fill="#111" stroke="#111" stroke-width="0.22" >0</text>
<line x1="406.48" y1="281.10" x2="406.48" y2="283.10" stroke="#111" stroke-width="0.9" />
<text x="406.48" y="290.90" font-size="6.6" text-anchor="middle" font-weight="normal" fill="#111" stroke="#111" stroke-width="0.22" >15</text>
<line x1="439.76" y1="281.10" x2="439.76" y2="283.10" stroke="#111" stroke-width="0.9" />
<text x="439.76" y="290.90" font-size="6.6" text-anchor="middle" font-weight="normal" fill="#111" stroke="#111" stroke-width="0.22" >30</text>
<line x1="473.04" y1="281.10" x2="473.04" y2="283.10" stroke="#111" stroke-width="0.9" />
<text x="473.04" y="290.90" font-size="6.6" text-anchor="middle" font-weight="normal" fill="#111" stroke="#111" stroke-width="0.22" >45</text>
<line x1="506.32" y1="281.10" x2="506.32" y2="283.10" stroke="#111" stroke-width="0.9" />
<text x="506.32" y="290.90" font-size="6.6" text-anchor="middle" font-weight="normal" fill="#111" stroke="#111" stroke-width="0.22" >60</text>
<text x="440.00" y="299.20" font-size="6.5" text-anchor="middle" font-weight="normal" fill="#111" stroke="#111" stroke-width="0.24" >Time after injection (min)</text>
<text x="345.20" y="236.70" font-size="7.35" text-anchor="middle" font-weight="normal" fill="#111" stroke="#111" stroke-width="0.24" transform="rotate(-90 345.20 236.70)" >Blood glucose (mg/dL)</text>
<polyline points="373.20,220.80 406.48,231.48 439.76,245.72 473.04,254.40 506.32,256.40" fill="none" stroke="#111" stroke-width="0.95"/>
<line x1="406.48" y1="224.88" x2="406.48" y2="238.08" stroke="#111" stroke-width="0.8" />
<line x1="404.48" y1="224.88" x2="408.48" y2="224.88" stroke="#111" stroke-width="0.8" />
<line x1="404.48" y1="238.08" x2="408.48" y2="238.08" stroke="#111" stroke-width="0.8" />
<line x1="439.76" y1="241.42" x2="439.76" y2="250.02" stroke="#111" stroke-width="0.8" />
<line x1="437.76" y1="241.42" x2="441.76" y2="241.42" stroke="#111" stroke-width="0.8" />
<line x1="437.76" y1="250.02" x2="441.76" y2="250.02" stroke="#111" stroke-width="0.8" />
<line x1="473.04" y1="252.90" x2="473.04" y2="255.90" stroke="#111" stroke-width="0.8" />
<line x1="471.04" y1="252.90" x2="475.04" y2="252.90" stroke="#111" stroke-width="0.8" />
<line x1="471.04" y1="255.90" x2="475.04" y2="255.90" stroke="#111" stroke-width="0.8" />
<line x1="506.32" y1="254.90" x2="506.32" y2="257.90" stroke="#111" stroke-width="0.8" />
<line x1="504.32" y1="254.90" x2="508.32" y2="254.90" stroke="#111" stroke-width="0.8" />
<line x1="504.32" y1="257.90" x2="508.32" y2="257.90" stroke="#111" stroke-width="0.8" />
<circle cx="373.20" cy="220.80" r="2.00" fill="#111"/>
<circle cx="406.48" cy="231.48" r="2.00" fill="#111"/>
<circle cx="439.76" cy="245.72" r="2.00" fill="#111"/>
<circle cx="473.04" cy="254.40" r="2.00" fill="#111"/>
<circle cx="506.32" cy="256.40" r="2.00" fill="#111"/>
<polyline points="373.20,235.49 406.48,240.16 439.76,258.41 473.04,261.08 506.32,260.41" fill="none" stroke="#111" stroke-width="0.95"/>
<line x1="373.20" y1="232.99" x2="373.20" y2="237.99" stroke="#111" stroke-width="0.8" />
<line x1="371.20" y1="232.99" x2="375.20" y2="232.99" stroke="#111" stroke-width="0.8" />
<line x1="371.20" y1="237.99" x2="375.20" y2="237.99" stroke="#111" stroke-width="0.8" />
<line x1="406.48" y1="232.46" x2="406.48" y2="247.86" stroke="#111" stroke-width="0.8" />
<line x1="404.48" y1="232.46" x2="408.48" y2="232.46" stroke="#111" stroke-width="0.8" />
<line x1="404.48" y1="247.86" x2="408.48" y2="247.86" stroke="#111" stroke-width="0.8" />
<line x1="439.76" y1="256.91" x2="439.76" y2="259.91" stroke="#111" stroke-width="0.8" />
<line x1="437.76" y1="256.91" x2="441.76" y2="256.91" stroke="#111" stroke-width="0.8" />
<line x1="437.76" y1="259.91" x2="441.76" y2="259.91" stroke="#111" stroke-width="0.8" />
<line x1="473.04" y1="259.58" x2="473.04" y2="262.58" stroke="#111" stroke-width="0.8" />
<line x1="471.04" y1="259.58" x2="475.04" y2="259.58" stroke="#111" stroke-width="0.8" />
<line x1="471.04" y1="262.58" x2="475.04" y2="262.58" stroke="#111" stroke-width="0.8" />
<line x1="506.32" y1="258.91" x2="506.32" y2="261.91" stroke="#111" stroke-width="0.8" />
<line x1="504.32" y1="258.91" x2="508.32" y2="258.91" stroke="#111" stroke-width="0.8" />
<line x1="504.32" y1="261.91" x2="508.32" y2="261.91" stroke="#111" stroke-width="0.8" />
<polygon points="373.20,232.89 370.60,237.44 375.80,237.44" fill="#111"/>
<polygon points="406.48,237.56 403.88,242.11 409.08,242.11" fill="#111"/>
<polygon points="439.76,255.81 437.16,260.36 442.36,260.36" fill="#111"/>
<polygon points="473.04,258.48 470.44,263.03 475.64,263.03" fill="#111"/>
<polygon points="506.32,257.81 503.72,262.36 508.92,262.36" fill="#111"/>
<polyline points="373.20,249.06 406.48,253.51 439.76,259.07 473.04,258.41 506.32,254.40" fill="none" stroke="#111" stroke-width="0.95"/>
<line x1="373.20" y1="247.06" x2="373.20" y2="251.06" stroke="#111" stroke-width="0.8" />
<line x1="371.20" y1="247.06" x2="375.20" y2="247.06" stroke="#111" stroke-width="0.8" />
<line x1="371.20" y1="251.06" x2="375.20" y2="251.06" stroke="#111" stroke-width="0.8" />
<line x1="406.48" y1="252.01" x2="406.48" y2="255.01" stroke="#111" stroke-width="0.8" />
<line x1="404.48" y1="252.01" x2="408.48" y2="252.01" stroke="#111" stroke-width="0.8" />
<line x1="404.48" y1="255.01" x2="408.48" y2="255.01" stroke="#111" stroke-width="0.8" />
<line x1="439.76" y1="257.57" x2="439.76" y2="260.57" stroke="#111" stroke-width="0.8" />
<line x1="437.76" y1="257.57" x2="441.76" y2="257.57" stroke="#111" stroke-width="0.8" />
<line x1="437.76" y1="260.57" x2="441.76" y2="260.57" stroke="#111" stroke-width="0.8" />
<line x1="473.04" y1="256.91" x2="473.04" y2="259.91" stroke="#111" stroke-width="0.8" />
<line x1="471.04" y1="256.91" x2="475.04" y2="256.91" stroke="#111" stroke-width="0.8" />
<line x1="471.04" y1="259.91" x2="475.04" y2="259.91" stroke="#111" stroke-width="0.8" />
<line x1="506.32" y1="251.90" x2="506.32" y2="256.90" stroke="#111" stroke-width="0.8" />
<line x1="504.32" y1="251.90" x2="508.32" y2="251.90" stroke="#111" stroke-width="0.8" />
<line x1="504.32" y1="256.90" x2="508.32" y2="256.90" stroke="#111" stroke-width="0.8" />
<polygon points="373.20,247.01 371.15,250.60 375.25,250.60" fill="#fff" stroke="#111" stroke-width="0.8"/>
<polygon points="406.48,251.46 404.43,255.05 408.53,255.05" fill="#fff" stroke="#111" stroke-width="0.8"/>
<polygon points="439.76,257.02 437.71,260.61 441.81,260.61" fill="#fff" stroke="#111" stroke-width="0.8"/>
<polygon points="473.04,256.36 470.99,259.94 475.09,259.94" fill="#fff" stroke="#111" stroke-width="0.8"/>
<polygon points="506.32,252.35 504.27,255.94 508.37,255.94" fill="#fff" stroke="#111" stroke-width="0.8"/>
<polyline points="373.20,249.51 406.48,253.73 439.76,257.51 473.04,257.07 506.32,256.18" fill="none" stroke="#111" stroke-width="0.95"/>
<line x1="373.20" y1="247.51" x2="373.20" y2="251.51" stroke="#111" stroke-width="0.8" />
<line x1="371.20" y1="247.51" x2="375.20" y2="247.51" stroke="#111" stroke-width="0.8" />
<line x1="371.20" y1="251.51" x2="375.20" y2="251.51" stroke="#111" stroke-width="0.8" />
<line x1="406.48" y1="252.23" x2="406.48" y2="255.23" stroke="#111" stroke-width="0.8" />
<line x1="404.48" y1="252.23" x2="408.48" y2="252.23" stroke="#111" stroke-width="0.8" />
<line x1="404.48" y1="255.23" x2="408.48" y2="255.23" stroke="#111" stroke-width="0.8" />
<line x1="439.76" y1="256.01" x2="439.76" y2="259.01" stroke="#111" stroke-width="0.8" />
<line x1="437.76" y1="256.01" x2="441.76" y2="256.01" stroke="#111" stroke-width="0.8" />
<line x1="437.76" y1="259.01" x2="441.76" y2="259.01" stroke="#111" stroke-width="0.8" />
<line x1="473.04" y1="255.57" x2="473.04" y2="258.57" stroke="#111" stroke-width="0.8" />
<line x1="471.04" y1="255.57" x2="475.04" y2="255.57" stroke="#111" stroke-width="0.8" />
<line x1="471.04" y1="258.57" x2="475.04" y2="258.57" stroke="#111" stroke-width="0.8" />
<line x1="506.32" y1="253.68" x2="506.32" y2="258.68" stroke="#111" stroke-width="0.8" />
<line x1="504.32" y1="253.68" x2="508.32" y2="253.68" stroke="#111" stroke-width="0.8" />
<line x1="504.32" y1="258.68" x2="508.32" y2="258.68" stroke="#111" stroke-width="0.8" />
<circle cx="373.20" cy="249.51" r="1.70" fill="#fff" stroke="#111" stroke-width="0.8"/>
<circle cx="406.48" cy="253.73" r="1.70" fill="#fff" stroke="#111" stroke-width="0.8"/>
<circle cx="439.76" cy="257.51" r="1.70" fill="#fff" stroke="#111" stroke-width="0.8"/>
<circle cx="473.04" cy="257.07" r="1.70" fill="#fff" stroke="#111" stroke-width="0.8"/>
<circle cx="506.32" cy="256.18" r="1.70" fill="#fff" stroke="#111" stroke-width="0.8"/>
<line x1="465.60" y1="193.20" x2="474.00" y2="193.20" stroke="#111" stroke-width="0.8" />
<circle cx="469.80" cy="193.20" r="1.45" fill="#fff" stroke="#111" stroke-width="0.8"/>
<text x="480.30" y="195.70" font-size="6.8" text-anchor="start" font-weight="normal" fill="#111" stroke="#111" stroke-width="0.24" >+/+&#160;&#160;CTL</text>
<line x1="465.60" y1="202.80" x2="474.00" y2="202.80" stroke="#111" stroke-width="0.8" />
<polygon points="469.80,201.00 468.00,204.15 471.60,204.15" fill="#fff" stroke="#111" stroke-width="0.8"/>
<text x="480.30" y="205.30" font-size="6.8" text-anchor="start" font-weight="normal" fill="#111" stroke="#111" stroke-width="0.24" >+/-&#160;&#160;CTL</text>
<line x1="465.60" y1="212.70" x2="474.00" y2="212.70" stroke="#111" stroke-width="0.8" />
<circle cx="469.80" cy="212.70" r="1.75" fill="#111"/>
<text x="480.30" y="215.20" font-size="6.8" text-anchor="start" font-weight="normal" fill="#111" stroke="#111" stroke-width="0.24" >+/+&#160;&#160;DM</text>
<line x1="465.60" y1="222.20" x2="474.00" y2="222.20" stroke="#111" stroke-width="0.8" />
<polygon points="469.80,219.85 467.45,223.96 472.15,223.96" fill="#111"/>
<text x="480.30" y="224.70" font-size="6.8" text-anchor="start" font-weight="normal" fill="#111" stroke="#111" stroke-width="0.24" >+/-&#160;&#160;DM</text>
<text x="435.40" y="236.37" font-size="7.6" text-anchor="middle" font-weight="normal" fill="#222" stroke="#222" stroke-width="0.3" >*</text>
<text x="439.40" y="236.60" font-size="8" text-anchor="middle" font-weight="normal" fill="#222" stroke="#222" stroke-width="0.2" >,</text>
<text x="443.60" y="236.82" font-size="9.4" text-anchor="middle" font-weight="normal" fill="#222" stroke="#222" stroke-width="0.18" >†</text>
<text x="505.10" y="174.40" font-size="18" text-anchor="start" font-weight="bold" fill="#050505" stroke="#050505" stroke-width="0" letter-spacing="0.5">(h)</text>
<text x="601.70" y="181.00" font-size="7.9" text-anchor="middle" font-weight="normal" fill="#111" stroke="#111" stroke-width="0.4" letter-spacing="0.3">ITT</text>
<line x1="535.80" y1="192.57" x2="535.80" y2="280.15" stroke="#111" stroke-width="1.0" />
<line x1="533.80" y1="280.60" x2="535.80" y2="280.60" stroke="#111" stroke-width="0.9" />
<text x="532.80" y="283.45" font-size="6.4" text-anchor="end" font-weight="normal" fill="#111" stroke="#111" stroke-width="0.25" >0</text>
<line x1="533.80" y1="258.48" x2="535.80" y2="258.48" stroke="#111" stroke-width="0.9" />
<text x="532.80" y="261.33" font-size="6.4" text-anchor="end" font-weight="normal" fill="#111" stroke="#111" stroke-width="0.25" >2</text>
<line x1="533.80" y1="236.36" x2="535.80" y2="236.36" stroke="#111" stroke-width="0.9" />
<text x="532.80" y="239.21" font-size="6.4" text-anchor="end" font-weight="normal" fill="#111" stroke="#111" stroke-width="0.25" >4</text>
<line x1="533.80" y1="214.24" x2="535.80" y2="214.24" stroke="#111" stroke-width="0.9" />
<text x="532.80" y="217.09" font-size="6.4" text-anchor="end" font-weight="normal" fill="#111" stroke="#111" stroke-width="0.25" >6</text>
<line x1="533.80" y1="192.12" x2="535.80" y2="192.12" stroke="#111" stroke-width="0.9" />
<text x="532.80" y="194.97" font-size="6.4" text-anchor="end" font-weight="normal" fill="#111" stroke="#111" stroke-width="0.25" >8</text>
<line x1="535.35" y1="280.60" x2="668.30" y2="280.60" stroke="#111" stroke-width="1.0" />
<line x1="569.20" y1="280.60" x2="569.20" y2="283.40" stroke="#111" stroke-width="0.9" />
<text x="569.20" y="290.30" font-size="6.6" text-anchor="middle" font-weight="normal" fill="#111" stroke="#111" stroke-width="0.22" >CTL</text>
<line x1="635.90" y1="280.60" x2="635.90" y2="283.40" stroke="#111" stroke-width="0.9" />
<text x="635.90" y="290.30" font-size="6.6" text-anchor="middle" font-weight="normal" fill="#111" stroke="#111" stroke-width="0.22" >DM</text>
<text x="525.00" y="236.70" font-size="7.1" text-anchor="middle" font-weight="normal" fill="#111" stroke="#111" stroke-width="0.24" transform="rotate(-90 525.00 236.70)" >AUC (X100)</text>
<line x1="558.10" y1="228.10" x2="558.10" y2="224.10" stroke="#111" stroke-width="0.8" />
<line x1="552.55" y1="224.10" x2="563.65" y2="224.10" stroke="#111" stroke-width="0.8" />
<rect x="547.00" y="228.10" width="22.20" height="52.50" fill="#fff" stroke="#111" stroke-width="0.9" />
<line x1="580.30" y1="230.00" x2="580.30" y2="229.20" stroke="#111" stroke-width="0.8" />
<line x1="574.75" y1="229.20" x2="585.85" y2="229.20" stroke="#111" stroke-width="0.8" />
<rect x="569.20" y="230.00" width="22.20" height="50.60" fill="#000" stroke="#111" stroke-width="0.9" />
<line x1="624.80" y1="204.70" x2="624.80" y2="198.00" stroke="#111" stroke-width="0.8" />
<line x1="619.25" y1="198.00" x2="630.35" y2="198.00" stroke="#111" stroke-width="0.8" />
<rect x="613.70" y="204.70" width="22.20" height="75.90" fill="#fff" stroke="#111" stroke-width="0.9" />
<line x1="647.00" y1="222.00" x2="647.00" y2="213.50" stroke="#111" stroke-width="0.8" />
<line x1="641.45" y1="213.50" x2="652.55" y2="213.50" stroke="#111" stroke-width="0.8" />
<rect x="635.90" y="222.00" width="22.20" height="58.60" fill="#000" stroke="#111" stroke-width="0.9" />
<rect x="542.60" y="198.50" width="9.20" height="4.60" fill="#fff" stroke="#111" stroke-width="0.9" />
<text x="556.90" y="203.30" font-size="7.0" text-anchor="start" font-weight="normal" fill="#111" stroke="#111" stroke-width="0.24" >WT</text>
<rect x="542.60" y="208.80" width="9.20" height="4.60" fill="#000" stroke="#111" stroke-width="0.9" />
<text x="556.90" y="213.60" font-size="7.0" text-anchor="start" font-weight="normal" fill="#111" stroke="#111" stroke-width="0.24" letter-spacing="0.37">TonEBP(+/-)</text>
<text x="623.80" y="195.87" font-size="7.6" text-anchor="middle" font-weight="normal" fill="#222" stroke="#222" stroke-width="0.3" >*</text>
<text x="6.00" y="340.80" font-size="18" text-anchor="start" font-weight="bold" fill="#050505" stroke="#050505" stroke-width="0" letter-spacing="0.5">(i)</text>
<line x1="37.50" y1="371.25" x2="37.50" y2="461.15" stroke="#111" stroke-width="1.0" />
<line x1="35.30" y1="461.60" x2="37.50" y2="461.60" stroke="#111" stroke-width="0.9" />
<text x="34.30" y="464.45" font-size="6.4" text-anchor="end" font-weight="normal" fill="#111" stroke="#111" stroke-width="0.25" >0.00</text>
<line x1="35.30" y1="443.44" x2="37.50" y2="443.44" stroke="#111" stroke-width="0.9" />
<text x="34.30" y="446.29" font-size="6.4" text-anchor="end" font-weight="normal" fill="#111" stroke="#111" stroke-width="0.25" >0.05</text>
<line x1="35.30" y1="425.28" x2="37.50" y2="425.28" stroke="#111" stroke-width="0.9" />
<text x="34.30" y="428.13" font-size="6.4" text-anchor="end" font-weight="normal" fill="#111" stroke="#111" stroke-width="0.25" >0.10</text>
<line x1="35.30" y1="407.12" x2="37.50" y2="407.12" stroke="#111" stroke-width="0.9" />
<text x="34.30" y="409.97" font-size="6.4" text-anchor="end" font-weight="normal" fill="#111" stroke="#111" stroke-width="0.25" >0.15</text>
<line x1="35.30" y1="388.96" x2="37.50" y2="388.96" stroke="#111" stroke-width="0.9" />
<text x="34.30" y="391.81" font-size="6.4" text-anchor="end" font-weight="normal" fill="#111" stroke="#111" stroke-width="0.25" >0.20</text>
<line x1="35.30" y1="370.80" x2="37.50" y2="370.80" stroke="#111" stroke-width="0.9" />
<text x="34.30" y="373.65" font-size="6.4" text-anchor="end" font-weight="normal" fill="#111" stroke="#111" stroke-width="0.25" >0.25</text>
<line x1="174.20" y1="370.40" x2="174.20" y2="462.05" stroke="#111" stroke-width="1.0" />
<line x1="174.20" y1="461.60" x2="176.70" y2="461.60" stroke="#111" stroke-width="0.9" />
<text x="178.60" y="463.90" font-size="6.4" text-anchor="start" font-weight="normal" fill="#111" stroke="#111" stroke-width="0.24" >0</text>
<line x1="174.20" y1="431.50" x2="176.70" y2="431.50" stroke="#111" stroke-width="0.9" />
<text x="178.60" y="433.80" font-size="6.4" text-anchor="start" font-weight="normal" fill="#111" stroke="#111" stroke-width="0.24" >2</text>
<line x1="174.20" y1="400.90" x2="176.70" y2="400.90" stroke="#111" stroke-width="0.9" />
<text x="178.60" y="403.20" font-size="6.4" text-anchor="start" font-weight="normal" fill="#111" stroke="#111" stroke-width="0.24" >4</text>
<line x1="174.20" y1="370.80" x2="176.70" y2="370.80" stroke="#111" stroke-width="0.9" />
<text x="178.60" y="373.10" font-size="6.4" text-anchor="start" font-weight="normal" fill="#111" stroke="#111" stroke-width="0.24" >6</text>
<line x1="37.00" y1="461.60" x2="174.70" y2="461.60" stroke="#111" stroke-width="1.0" />
<line x1="71.80" y1="461.60" x2="71.80" y2="464.20" stroke="#111" stroke-width="0.9" />
<line x1="139.60" y1="461.60" x2="139.60" y2="464.20" stroke="#111" stroke-width="0.9" />
<text x="72.10" y="470.90" font-size="6.8" text-anchor="middle" font-weight="normal" fill="#111" stroke="#111" stroke-width="0.24" >Insulin</text>
<text x="139.60" y="470.90" font-size="6.8" text-anchor="middle" font-weight="normal" fill="#111" stroke="#111" stroke-width="0.24" >HOMA-IR</text>
<text x="13.20" y="416.40" font-size="7.3" text-anchor="middle" font-weight="normal" fill="#111" stroke="#111" stroke-width="0.24" transform="rotate(-90 13.20 416.40)" >Serum insulin (ng/mL)</text>
<text x="189.40" y="415.30" font-size="6.9" text-anchor="middle" font-weight="normal" fill="#111" stroke="#111" stroke-width="0.24" transform="rotate(90 189.40 415.30)" >HOMA-IR</text>
<line x1="54.15" y1="417.70" x2="54.15" y2="412.50" stroke="#111" stroke-width="0.8" />
<line x1="51.15" y1="412.50" x2="57.15" y2="412.50" stroke="#111" stroke-width="0.8" />
<rect x="48.60" y="417.70" width="11.10" height="43.90" fill="#fff" stroke="#111" stroke-width="0.85" />
<line x1="65.75" y1="417.70" x2="65.75" y2="402.00" stroke="#111" stroke-width="0.8" />
<line x1="62.75" y1="402.00" x2="68.75" y2="402.00" stroke="#111" stroke-width="0.8" />
<rect x="60.20" y="417.70" width="11.10" height="43.90" fill="#d4d4d4" stroke="#111" stroke-width="0.85" />
<line x1="77.35" y1="392.10" x2="77.35" y2="380.00" stroke="#111" stroke-width="0.8" />
<line x1="74.35" y1="380.00" x2="80.35" y2="380.00" stroke="#111" stroke-width="0.8" />
<rect x="71.80" y="392.10" width="11.10" height="69.50" fill="#858585" stroke="#111" stroke-width="0.85" />
<line x1="88.95" y1="407.50" x2="88.95" y2="389.50" stroke="#111" stroke-width="0.8" />
<line x1="85.95" y1="389.50" x2="91.95" y2="389.50" stroke="#111" stroke-width="0.8" />
<rect x="83.40" y="407.50" width="11.10" height="54.10" fill="#000" stroke="#111" stroke-width="0.85" />
<line x1="122.05" y1="442.30" x2="122.05" y2="437.40" stroke="#111" stroke-width="0.8" />
<line x1="119.05" y1="437.40" x2="125.05" y2="437.40" stroke="#111" stroke-width="0.8" />
<rect x="116.50" y="442.30" width="11.10" height="19.30" fill="#fff" stroke="#111" stroke-width="0.85" />
<line x1="133.65" y1="438.00" x2="133.65" y2="427.20" stroke="#111" stroke-width="0.8" />
<line x1="130.65" y1="427.20" x2="136.65" y2="427.20" stroke="#111" stroke-width="0.8" />
<rect x="128.10" y="438.00" width="11.10" height="23.60" fill="#d4d4d4" stroke="#111" stroke-width="0.85" />
<line x1="145.25" y1="413.40" x2="145.25" y2="406.90" stroke="#111" stroke-width="0.8" />
<line x1="142.25" y1="406.90" x2="148.25" y2="406.90" stroke="#111" stroke-width="0.8" />
<rect x="139.70" y="413.40" width="11.10" height="48.20" fill="#858585" stroke="#111" stroke-width="0.85" />
<line x1="156.85" y1="427.50" x2="156.85" y2="423.60" stroke="#111" stroke-width="0.8" />
<line x1="153.85" y1="423.60" x2="159.85" y2="423.60" stroke="#111" stroke-width="0.8" />
<rect x="151.30" y="427.50" width="11.10" height="34.10" fill="#000" stroke="#111" stroke-width="0.85" />
<text x="145.20" y="403.87" font-size="7.6" text-anchor="middle" font-weight="normal" fill="#222" stroke="#222" stroke-width="0.3" >*</text>
<rect x="117.50" y="336.10" width="9.60" height="3.60" fill="#fff" stroke="#111" stroke-width="0.85" />
<text x="132.80" y="340.20" font-size="6.3" text-anchor="start" font-weight="normal" fill="#111" stroke="#111" stroke-width="0.24" >+/+ CTL</text>
<rect x="117.50" y="346.20" width="9.60" height="3.60" fill="#d4d4d4" stroke="#111" stroke-width="0.85" />
<text x="132.80" y="350.30" font-size="6.3" text-anchor="start" font-weight="normal" fill="#111" stroke="#111" stroke-width="0.24" >+/-&#160;&#160;CTL</text>
<rect x="117.50" y="356.60" width="9.60" height="3.60" fill="#858585" stroke="#111" stroke-width="0.85" />
<text x="132.80" y="360.70" font-size="6.3" text-anchor="start" font-weight="normal" fill="#111" stroke="#111" stroke-width="0.24" >+/+ DM</text>
<rect x="117.50" y="367.00" width="9.60" height="3.60" fill="#000" stroke="#111" stroke-width="0.85" />
<text x="132.80" y="371.10" font-size="6.3" text-anchor="start" font-weight="normal" fill="#111" stroke="#111" stroke-width="0.24" >+/-&#160;&#160;DM</text>
<text x="198.20" y="340.50" font-size="18" text-anchor="start" font-weight="bold" fill="#050505" stroke="#050505" stroke-width="0" letter-spacing="0">(j)</text>
<text x="255.70" y="333.20" font-size="6.6" text-anchor="middle" font-weight="normal" fill="#111" stroke="#111" stroke-width="0.15" >WT</text>
<text x="319.20" y="333.20" font-size="6.6" text-anchor="middle" font-weight="normal" fill="#111" stroke="#111" stroke-width="0.15" letter-spacing="0.4">TonEBP(+/-)</text>
<text x="218.60" y="370.50" font-size="6.4" text-anchor="middle" font-weight="normal" fill="#111" stroke="#111" stroke-width="0.24" transform="rotate(-90 218.60 370.50)" >CTL</text>
<text x="218.60" y="433.00" font-size="6.4" text-anchor="middle" font-weight="normal" fill="#111" stroke="#111" stroke-width="0.24" transform="rotate(-90 218.60 433.00)" >DM</text>
<defs><clipPath id="c1"><rect x="224.1" y="338.2" width="61.60" height="61.60"/></clipPath><clipPath id="c2"><rect x="287.09999999999997" y="338.2" width="62.70" height="61.60"/></clipPath><clipPath id="c3"><rect x="224.1" y="401.2" width="61.60" height="63.20"/></clipPath><clipPath id="c4"><rect x="287.09999999999997" y="401.2" width="62.70" height="63.20"/></clipPath><radialGradient id="isl"><stop offset="0" stop-color="#c81414"/><stop offset="0.7" stop-color="#a80f0f"/><stop offset="1" stop-color="#5a0606" stop-opacity="0.2"/></radialGradient><filter id="bl2" x="-30%" y="-30%" width="160%" height="160%"><feGaussianBlur stdDeviation="5"/></filter><filter id="bl" x="-20%" y="-20%" width="140%" height="140%"><feGaussianBlur stdDeviation="0.6"/></filter></defs>
<rect x="224.1" y="338.2" width="125.70" height="126.20" fill="#0b0202"/>
<clipPath id="call"><rect x="224.1" y="338.2" width="125.70" height="126.20"/></clipPath><g clip-path="url(#call)">
<ellipse cx="255" cy="370" rx="24" ry="22" fill="#1c0303" opacity="0.6" filter="url(#bl2)"/>
<ellipse cx="318" cy="368" rx="24" ry="18" fill="#1c0303" opacity="0.6" filter="url(#bl2)"/>
<ellipse cx="255" cy="433" rx="20" ry="18" fill="#1c0303" opacity="0.6" filter="url(#bl2)"/>
<ellipse cx="318" cy="433" rx="22" ry="18" fill="#1c0303" opacity="0.6" filter="url(#bl2)"/>
</g>
<g clip-path="url(#c1)"><g filter="url(#bl)" transform="rotate(0 265.7 351.6)">
<polygon points="274.3,351.6 273.1,355.6 271.5,359.7 267.5,360.3 263.7,361.4 260.3,359.2 258.5,355.5 256.7,351.6 258.5,347.7 260.2,343.9 263.9,342.9 267.5,342.8 271.2,343.9 274.4,346.9" fill="#8e0d0d"/>
<circle cx="268.7" cy="354.9" r="0.69" fill="#d41c1c"/>
<circle cx="256.8" cy="359.1" r="0.61" fill="#b01010"/>
<circle cx="259.1" cy="349.7" r="0.45" fill="#c01414"/>
<circle cx="256.0" cy="346.4" r="0.71" fill="#d41c1c"/>
<circle cx="259.1" cy="351.8" r="0.69" fill="#420505"/>
<circle cx="261.0" cy="353.2" r="0.44" fill="#c01414"/>
<circle cx="263.7" cy="358.3" r="0.54" fill="#420505"/>
<circle cx="268.8" cy="351.2" r="0.48" fill="#560707"/>
<circle cx="263.9" cy="351.7" r="0.69" fill="#ea3434"/>
<circle cx="269.3" cy="347.7" r="0.69" fill="#420505"/>
<circle cx="257.8" cy="354.1" r="0.75" fill="#420505"/>
<circle cx="272.8" cy="355.0" r="0.54" fill="#420505"/>
<circle cx="258.0" cy="359.0" r="0.71" fill="#c01414"/>
<circle cx="261.5" cy="351.8" r="0.60" fill="#c01414"/>
<circle cx="271.2" cy="348.1" r="0.67" fill="#300303"/>
<circle cx="271.8" cy="345.5" r="0.75" fill="#b01010"/>
<circle cx="273.1" cy="350.9" r="0.48" fill="#c01414"/>
<circle cx="267.6" cy="355.9" r="0.82" fill="#420505"/>
<circle cx="267.7" cy="356.4" r="0.58" fill="#ea3434"/>
<circle cx="257.7" cy="347.6" r="0.88" fill="#ea3434"/>
<circle cx="261.3" cy="344.5" r="0.60" fill="#ea3434"/>
<circle cx="263.4" cy="353.5" r="0.50" fill="#d41c1c"/>
<circle cx="276.2" cy="350.5" r="0.40" fill="#dc2424"/>
<circle cx="267.4" cy="354.2" r="0.44" fill="#d41c1c"/>
<circle cx="267.1" cy="357.5" r="0.70" fill="#560707"/>
<circle cx="262.7" cy="352.1" r="0.64" fill="#420505"/>
<circle cx="264.4" cy="355.1" r="0.64" fill="#b01010"/>
<circle cx="263.4" cy="344.9" r="0.58" fill="#ea3434"/>
<circle cx="262.5" cy="342.7" r="0.89" fill="#b01010"/>
<circle cx="270.6" cy="345.3" r="0.85" fill="#560707"/>
<circle cx="263.1" cy="355.3" r="0.56" fill="#ea3434"/>
<circle cx="267.1" cy="360.5" r="0.80" fill="#c01414"/>
<circle cx="268.9" cy="343.8" r="0.65" fill="#ea3434"/>
<circle cx="264.6" cy="341.7" r="0.53" fill="#420505"/>
<circle cx="262.6" cy="342.5" r="0.88" fill="#560707"/>
<circle cx="262.9" cy="355.1" r="0.57" fill="#c01414"/>
<circle cx="256.8" cy="352.7" r="0.64" fill="#d41c1c"/>
<circle cx="259.6" cy="341.9" r="0.79" fill="#300303"/>
<circle cx="265.7" cy="344.7" r="0.44" fill="#560707"/>
<circle cx="272.9" cy="348.8" r="0.76" fill="#dc2424"/>
<circle cx="267.2" cy="354.7" r="0.80" fill="#420505"/>
<circle cx="270.7" cy="358.8" r="0.48" fill="#560707"/>
<circle cx="264.4" cy="351.2" r="0.66" fill="#dc2424"/>
<circle cx="271.1" cy="348.9" r="0.41" fill="#c01414"/>
<circle cx="267.2" cy="358.5" r="0.53" fill="#560707"/>
<circle cx="262.9" cy="353.4" r="0.85" fill="#560707"/>
<circle cx="261.5" cy="343.9" r="0.47" fill="#ea3434"/>
<circle cx="269.4" cy="357.4" r="0.70" fill="#c01414"/>
<circle cx="266.3" cy="347.8" r="0.68" fill="#dc2424"/>
<circle cx="262.7" cy="358.0" r="0.84" fill="#dc2424"/>
<circle cx="274.4" cy="355.2" r="0.68" fill="#420505"/>
<circle cx="266.2" cy="342.1" r="0.70" fill="#ea3434"/>
<circle cx="267.2" cy="356.6" r="0.65" fill="#420505"/>
<circle cx="265.8" cy="358.8" r="0.86" fill="#b01010"/>
<circle cx="268.9" cy="348.8" r="0.46" fill="#300303"/>
<circle cx="263.4" cy="352.6" r="0.51" fill="#dc2424"/>
<circle cx="264.7" cy="354.9" r="0.47" fill="#560707"/>
<circle cx="272.3" cy="345.0" r="0.60" fill="#dc2424"/>
<circle cx="256.8" cy="352.4" r="0.75" fill="#c01414"/>
<circle cx="271.4" cy="351.4" r="0.56" fill="#560707"/>
<circle cx="265.5" cy="350.2" r="0.75" fill="#420505"/>
<circle cx="260.9" cy="356.4" r="0.46" fill="#dc2424"/>
<circle cx="269.5" cy="349.3" r="0.53" fill="#dc2424"/>
<circle cx="273.4" cy="353.8" r="0.81" fill="#c01414"/>
<circle cx="270.0" cy="344.9" r="0.47" fill="#300303"/>
<circle cx="271.6" cy="347.9" r="0.54" fill="#dc2424"/>
<circle cx="266.9" cy="347.5" r="0.87" fill="#b01010"/>
<circle cx="258.3" cy="342.3" r="0.53" fill="#dc2424"/>
<circle cx="266.4" cy="352.3" r="0.86" fill="#300303"/>
<circle cx="265.3" cy="355.2" r="0.87" fill="#c01414"/>
<circle cx="270.2" cy="350.6" r="0.71" fill="#b01010"/>
<circle cx="261.7" cy="350.7" r="0.54" fill="#c01414"/>
<circle cx="268.7" cy="342.1" r="0.68" fill="#ea3434"/>
<circle cx="268.0" cy="358.0" r="0.73" fill="#dc2424"/>
<circle cx="261.4" cy="345.0" r="0.89" fill="#300303"/>
<circle cx="264.2" cy="355.9" r="0.82" fill="#c01414"/>
<circle cx="263.8" cy="343.9" r="0.89" fill="#560707"/>
<circle cx="266.3" cy="350.6" r="0.62" fill="#b01010"/>
<circle cx="272.6" cy="354.4" r="0.74" fill="#ea3434"/>
<circle cx="264.8" cy="356.4" r="0.49" fill="#420505"/>
<circle cx="265.6" cy="352.2" r="0.89" fill="#560707"/>
<circle cx="261.4" cy="350.2" r="0.51" fill="#b01010"/>
<circle cx="269.7" cy="361.4" r="0.52" fill="#c01414"/>
<circle cx="266.1" cy="348.6" r="0.60" fill="#c01414"/>
<circle cx="267.0" cy="352.0" r="0.44" fill="#c01414"/>
<circle cx="273.7" cy="349.2" r="0.78" fill="#300303"/>
<circle cx="264.5" cy="344.7" r="0.42" fill="#c01414"/>
<circle cx="270.0" cy="343.5" r="0.47" fill="#ea3434"/>
<circle cx="259.4" cy="350.5" r="0.81" fill="#d41c1c"/>
<circle cx="258.4" cy="346.8" r="0.44" fill="#c01414"/>
</g></g>
<g clip-path="url(#c1)"><g filter="url(#bl)" transform="rotate(0 244.4 387.4)">
<polygon points="253.8,387.4 254.3,392.4 251.7,397.1 246.7,398.0 242.1,398.2 238.5,395.2 236.0,391.7 233.7,387.4 235.4,382.8 238.2,379.1 242.1,376.6 246.5,377.6 251.7,377.7 254.9,382.1" fill="#8e0d0d"/>
<circle cx="250.8" cy="391.8" r="0.53" fill="#420505"/>
<circle cx="249.3" cy="390.0" r="0.52" fill="#c01414"/>
<circle cx="240.2" cy="381.3" r="0.64" fill="#dc2424"/>
<circle cx="240.6" cy="378.4" r="0.44" fill="#c01414"/>
<circle cx="247.6" cy="391.9" r="0.71" fill="#b01010"/>
<circle cx="249.3" cy="393.2" r="0.75" fill="#dc2424"/>
<circle cx="241.8" cy="382.0" r="0.63" fill="#420505"/>
<circle cx="245.5" cy="376.3" r="0.89" fill="#b01010"/>
<circle cx="245.7" cy="386.8" r="0.88" fill="#ea3434"/>
<circle cx="239.2" cy="389.2" r="0.44" fill="#c01414"/>
<circle cx="252.1" cy="392.6" r="0.47" fill="#560707"/>
<circle cx="247.6" cy="380.2" r="0.52" fill="#560707"/>
<circle cx="252.9" cy="380.7" r="0.74" fill="#420505"/>
<circle cx="236.9" cy="392.7" r="0.56" fill="#300303"/>
<circle cx="244.6" cy="387.0" r="0.46" fill="#300303"/>
<circle cx="252.4" cy="383.2" r="0.53" fill="#b01010"/>
<circle cx="250.5" cy="390.2" r="0.58" fill="#dc2424"/>
<circle cx="234.6" cy="392.4" r="0.72" fill="#b01010"/>
<circle cx="250.6" cy="396.3" r="0.49" fill="#560707"/>
<circle cx="237.1" cy="395.2" r="0.86" fill="#300303"/>
<circle cx="251.7" cy="384.4" r="0.87" fill="#d41c1c"/>
<circle cx="233.2" cy="394.8" r="0.42" fill="#420505"/>
<circle cx="247.8" cy="385.6" r="0.54" fill="#560707"/>
<circle cx="244.1" cy="397.0" r="0.73" fill="#300303"/>
<circle cx="241.9" cy="395.3" r="0.72" fill="#c01414"/>
<circle cx="251.1" cy="391.0" r="0.51" fill="#ea3434"/>
<circle cx="253.2" cy="381.2" r="0.67" fill="#c01414"/>
<circle cx="244.6" cy="392.1" r="0.52" fill="#560707"/>
<circle cx="244.0" cy="395.8" r="0.59" fill="#300303"/>
<circle cx="244.3" cy="382.3" r="0.65" fill="#d41c1c"/>
<circle cx="238.7" cy="384.4" r="0.71" fill="#ea3434"/>
<circle cx="247.6" cy="383.4" r="0.59" fill="#c01414"/>
<circle cx="240.2" cy="381.6" r="0.46" fill="#d41c1c"/>
<circle cx="236.1" cy="391.8" r="0.40" fill="#420505"/>
<circle cx="236.5" cy="394.2" r="0.89" fill="#420505"/>
<circle cx="244.4" cy="391.1" r="0.89" fill="#ea3434"/>
<circle cx="251.9" cy="393.8" r="0.44" fill="#420505"/>
<circle cx="246.5" cy="374.6" r="0.72" fill="#d41c1c"/>
<circle cx="243.1" cy="391.2" r="0.75" fill="#300303"/>
<circle cx="246.5" cy="389.3" r="0.59" fill="#c01414"/>
<circle cx="246.3" cy="399.4" r="0.54" fill="#420505"/>
<circle cx="240.5" cy="396.8" r="0.52" fill="#ea3434"/>
<circle cx="244.6" cy="398.4" r="0.43" fill="#b01010"/>
<circle cx="247.8" cy="397.3" r="0.53" fill="#dc2424"/>
<circle cx="239.3" cy="378.0" r="0.75" fill="#d41c1c"/>
<circle cx="243.1" cy="380.8" r="0.80" fill="#d41c1c"/>
<circle cx="243.9" cy="379.5" r="0.56" fill="#c01414"/>
<circle cx="246.6" cy="382.5" r="0.45" fill="#b01010"/>
<circle cx="238.5" cy="381.3" r="0.61" fill="#420505"/>
<circle cx="239.2" cy="378.0" r="0.43" fill="#300303"/>
<circle cx="252.5" cy="388.7" r="0.49" fill="#d41c1c"/>
<circle cx="235.9" cy="390.3" r="0.90" fill="#dc2424"/>
<circle cx="249.9" cy="384.7" r="0.77" fill="#ea3434"/>
<circle cx="252.9" cy="389.2" r="0.89" fill="#560707"/>
<circle cx="234.3" cy="391.5" r="0.88" fill="#300303"/>
<circle cx="251.8" cy="395.1" r="0.78" fill="#560707"/>
<circle cx="239.8" cy="399.9" r="0.59" fill="#c01414"/>
<circle cx="248.5" cy="385.0" r="0.42" fill="#420505"/>
<circle cx="236.3" cy="392.8" r="0.59" fill="#d41c1c"/>
<circle cx="233.5" cy="390.0" r="0.85" fill="#dc2424"/>
<circle cx="241.5" cy="392.4" r="0.53" fill="#d41c1c"/>
<circle cx="243.2" cy="381.2" r="0.76" fill="#d41c1c"/>
<circle cx="236.5" cy="381.7" r="0.41" fill="#dc2424"/>
<circle cx="245.1" cy="395.1" r="0.79" fill="#300303"/>
<circle cx="254.7" cy="380.8" r="0.80" fill="#d41c1c"/>
<circle cx="243.7" cy="377.3" r="0.56" fill="#c01414"/>
<circle cx="241.7" cy="393.5" r="0.66" fill="#dc2424"/>
<circle cx="241.1" cy="390.2" r="0.64" fill="#d41c1c"/>
<circle cx="240.3" cy="386.2" r="0.89" fill="#dc2424"/>
<circle cx="243.3" cy="400.1" r="0.49" fill="#420505"/>
<circle cx="249.2" cy="393.0" r="0.77" fill="#c01414"/>
<circle cx="251.9" cy="376.1" r="0.54" fill="#b01010"/>
<circle cx="243.8" cy="393.0" r="0.52" fill="#420505"/>
<circle cx="244.5" cy="391.8" r="0.56" fill="#c01414"/>
<circle cx="236.0" cy="394.2" r="0.72" fill="#c01414"/>
<circle cx="253.0" cy="394.0" r="0.82" fill="#c01414"/>
<circle cx="246.2" cy="386.2" r="0.43" fill="#dc2424"/>
<circle cx="236.6" cy="381.4" r="0.59" fill="#dc2424"/>
<circle cx="249.1" cy="381.8" r="0.45" fill="#d41c1c"/>
<circle cx="237.5" cy="382.4" r="0.57" fill="#560707"/>
<circle cx="256.7" cy="391.1" r="0.81" fill="#c01414"/>
<circle cx="247.2" cy="380.9" r="0.44" fill="#b01010"/>
<circle cx="251.7" cy="388.9" r="0.45" fill="#300303"/>
<circle cx="238.2" cy="392.5" r="0.73" fill="#dc2424"/>
<circle cx="240.0" cy="390.9" r="0.61" fill="#b01010"/>
<circle cx="253.1" cy="390.5" r="0.61" fill="#300303"/>
<circle cx="251.4" cy="379.0" r="0.60" fill="#c01414"/>
<circle cx="235.9" cy="393.5" r="0.61" fill="#c01414"/>
<circle cx="247.3" cy="380.9" r="0.79" fill="#420505"/>
<circle cx="246.1" cy="389.3" r="0.44" fill="#300303"/>
<circle cx="239.8" cy="382.7" r="0.57" fill="#c01414"/>
<circle cx="250.6" cy="397.9" r="0.55" fill="#c01414"/>
<circle cx="245.6" cy="385.4" r="0.43" fill="#560707"/>
<circle cx="250.3" cy="384.3" r="0.72" fill="#c01414"/>
<circle cx="249.6" cy="380.5" r="0.81" fill="#c01414"/>
<circle cx="246.4" cy="392.2" r="0.48" fill="#ea3434"/>
<circle cx="241.8" cy="390.8" r="0.42" fill="#c01414"/>
<circle cx="232.3" cy="382.1" r="0.59" fill="#dc2424"/>
<circle cx="235.0" cy="390.2" r="0.55" fill="#300303"/>
<circle cx="244.4" cy="394.4" r="0.62" fill="#ea3434"/>
<circle cx="252.6" cy="388.7" r="0.62" fill="#c01414"/>
<circle cx="237.3" cy="380.5" r="0.60" fill="#420505"/>
<circle cx="250.2" cy="390.1" r="0.65" fill="#420505"/>
<circle cx="237.0" cy="375.6" r="0.79" fill="#560707"/>
<circle cx="241.9" cy="387.2" r="0.73" fill="#300303"/>
<circle cx="247.1" cy="374.6" r="0.50" fill="#dc2424"/>
<circle cx="251.8" cy="386.5" r="0.74" fill="#c01414"/>
<circle cx="243.5" cy="382.2" r="0.48" fill="#b01010"/>
<circle cx="248.8" cy="383.8" r="0.53" fill="#c01414"/>
<circle cx="251.6" cy="385.7" r="0.52" fill="#ea3434"/>
<circle cx="241.1" cy="391.0" r="0.74" fill="#b01010"/>
<circle cx="247.8" cy="384.6" r="0.78" fill="#dc2424"/>
<circle cx="253.8" cy="390.5" r="0.68" fill="#420505"/>
<circle cx="232.5" cy="380.5" r="0.77" fill="#300303"/>
<circle cx="239.9" cy="392.4" r="0.58" fill="#c01414"/>
<circle cx="245.0" cy="380.0" r="0.55" fill="#d41c1c"/>
<circle cx="238.5" cy="386.8" r="0.77" fill="#560707"/>
<circle cx="244.3" cy="382.1" r="0.61" fill="#300303"/>
<circle cx="242.9" cy="389.2" r="0.41" fill="#d41c1c"/>
<circle cx="256.1" cy="387.6" r="0.61" fill="#c01414"/>
</g></g>
<g clip-path="url(#c2)"><g filter="url(#bl)" transform="rotate(0 297.1 370.2)">
<polygon points="305.6,370.2 304.3,373.1 302.6,376.0 299.4,378.7 295.3,376.9 292.4,375.2 287.9,374.0 287.2,370.2 289.0,366.9 292.3,365.1 295.3,363.6 299.3,362.1 302.4,364.6 306.3,366.4" fill="#8e0d0d"/>
<circle cx="299.2" cy="369.8" r="0.70" fill="#560707"/>
<circle cx="290.8" cy="367.3" r="0.52" fill="#420505"/>
<circle cx="298.7" cy="369.3" r="0.49" fill="#300303"/>
<circle cx="302.9" cy="377.9" r="0.47" fill="#c01414"/>
<circle cx="299.3" cy="376.0" r="0.81" fill="#300303"/>
<circle cx="299.4" cy="374.1" r="0.90" fill="#d41c1c"/>
<circle cx="296.1" cy="364.9" r="0.82" fill="#300303"/>
<circle cx="296.9" cy="364.9" r="0.49" fill="#420505"/>
<circle cx="301.8" cy="370.1" r="0.57" fill="#dc2424"/>
<circle cx="297.1" cy="363.7" r="0.53" fill="#d41c1c"/>
<circle cx="291.4" cy="368.5" r="0.89" fill="#ea3434"/>
<circle cx="294.6" cy="377.4" r="0.84" fill="#dc2424"/>
<circle cx="301.8" cy="370.6" r="0.87" fill="#c01414"/>
<circle cx="297.0" cy="365.7" r="0.70" fill="#560707"/>
<circle cx="290.9" cy="375.1" r="0.63" fill="#ea3434"/>
<circle cx="301.2" cy="364.7" r="0.88" fill="#300303"/>
<circle cx="298.0" cy="377.5" r="0.71" fill="#300303"/>
<circle cx="304.9" cy="373.7" r="0.46" fill="#d41c1c"/>
<circle cx="294.4" cy="368.0" r="0.42" fill="#d41c1c"/>
<circle cx="303.1" cy="376.3" r="0.43" fill="#d41c1c"/>
<circle cx="292.4" cy="367.7" r="0.85" fill="#ea3434"/>
<circle cx="304.9" cy="373.1" r="0.45" fill="#300303"/>
<circle cx="300.2" cy="379.5" r="0.81" fill="#dc2424"/>
<circle cx="290.7" cy="364.3" r="0.55" fill="#c01414"/>
<circle cx="294.7" cy="373.6" r="0.42" fill="#b01010"/>
<circle cx="297.6" cy="362.8" r="0.64" fill="#ea3434"/>
<circle cx="295.2" cy="376.7" r="0.62" fill="#d41c1c"/>
<circle cx="297.9" cy="365.7" r="0.68" fill="#ea3434"/>
<circle cx="295.2" cy="363.3" r="0.49" fill="#b01010"/>
<circle cx="301.2" cy="370.2" r="0.40" fill="#d41c1c"/>
<circle cx="290.7" cy="370.5" r="0.88" fill="#c01414"/>
<circle cx="289.6" cy="366.0" r="0.54" fill="#c01414"/>
<circle cx="298.8" cy="376.6" r="0.87" fill="#dc2424"/>
<circle cx="297.8" cy="364.8" r="0.79" fill="#ea3434"/>
<circle cx="293.3" cy="366.9" r="0.85" fill="#300303"/>
<circle cx="296.9" cy="365.1" r="0.50" fill="#560707"/>
<circle cx="296.4" cy="377.6" r="0.89" fill="#300303"/>
<circle cx="289.8" cy="363.5" r="0.57" fill="#d41c1c"/>
<circle cx="295.4" cy="372.9" r="0.77" fill="#ea3434"/>
<circle cx="300.1" cy="374.7" r="0.46" fill="#c01414"/>
<circle cx="288.7" cy="371.9" r="0.53" fill="#c01414"/>
<circle cx="297.3" cy="363.1" r="0.89" fill="#c01414"/>
<circle cx="295.9" cy="364.2" r="0.56" fill="#c01414"/>
<circle cx="300.5" cy="377.3" r="0.48" fill="#dc2424"/>
<circle cx="294.9" cy="367.3" r="0.80" fill="#c01414"/>
<circle cx="296.5" cy="365.1" r="0.54" fill="#dc2424"/>
<circle cx="305.7" cy="363.8" r="0.75" fill="#300303"/>
<circle cx="289.8" cy="370.2" r="0.53" fill="#c01414"/>
<circle cx="297.0" cy="369.6" r="0.75" fill="#300303"/>
<circle cx="290.8" cy="366.9" r="0.74" fill="#c01414"/>
<circle cx="293.2" cy="366.1" r="0.85" fill="#dc2424"/>
<circle cx="297.4" cy="375.1" r="0.53" fill="#c01414"/>
<circle cx="291.6" cy="372.6" r="0.66" fill="#300303"/>
<circle cx="292.5" cy="364.0" r="0.79" fill="#560707"/>
<circle cx="292.2" cy="373.7" r="0.53" fill="#d41c1c"/>
<circle cx="298.7" cy="376.7" r="0.66" fill="#c01414"/>
<circle cx="302.7" cy="373.7" r="0.66" fill="#420505"/>
<circle cx="291.7" cy="364.7" r="0.77" fill="#300303"/>
<circle cx="288.3" cy="372.3" r="0.78" fill="#ea3434"/>
<circle cx="303.7" cy="375.6" r="0.53" fill="#d41c1c"/>
<circle cx="288.6" cy="376.8" r="0.69" fill="#560707"/>
<circle cx="301.0" cy="372.9" r="0.89" fill="#ea3434"/>
<circle cx="306.1" cy="369.9" r="0.46" fill="#c01414"/>
<circle cx="298.5" cy="363.3" r="0.72" fill="#420505"/>
<circle cx="295.6" cy="363.3" r="0.63" fill="#300303"/>
<circle cx="294.0" cy="379.4" r="0.79" fill="#560707"/>
<circle cx="298.0" cy="376.7" r="0.74" fill="#300303"/>
<circle cx="288.9" cy="371.0" r="0.52" fill="#560707"/>
<circle cx="295.1" cy="375.3" r="0.73" fill="#dc2424"/>
<circle cx="291.3" cy="375.9" r="0.44" fill="#d41c1c"/>
<circle cx="292.3" cy="368.4" r="0.82" fill="#ea3434"/>
<circle cx="289.3" cy="362.9" r="0.53" fill="#b01010"/>
<circle cx="299.9" cy="372.0" r="0.57" fill="#420505"/>
<circle cx="302.1" cy="376.3" r="0.70" fill="#c01414"/>
<circle cx="292.7" cy="361.2" r="0.79" fill="#ea3434"/>
<circle cx="299.3" cy="367.3" r="0.44" fill="#ea3434"/>
<circle cx="302.2" cy="363.4" r="0.52" fill="#300303"/>
<circle cx="303.8" cy="377.0" r="0.75" fill="#c01414"/>
<circle cx="297.2" cy="373.4" r="0.48" fill="#d41c1c"/>
<circle cx="293.8" cy="376.1" r="0.82" fill="#b01010"/>
</g></g>
<g clip-path="url(#c2)"><g filter="url(#bl)" transform="rotate(0 340.0 367.0)">
<polygon points="347.8,367.0 347.2,369.5 346.0,372.5 341.5,372.0 338.1,373.1 334.6,371.9 333.9,369.2 331.5,367.0 332.1,364.2 334.1,361.6 338.3,361.5 342.1,360.1 345.1,362.3 347.3,364.4" fill="#8e0d0d"/>
<circle cx="341.2" cy="366.3" r="0.57" fill="#c01414"/>
<circle cx="343.2" cy="364.2" r="0.68" fill="#ea3434"/>
<circle cx="343.7" cy="365.3" r="0.68" fill="#b01010"/>
<circle cx="342.1" cy="364.1" r="0.57" fill="#300303"/>
<circle cx="347.6" cy="366.4" r="0.73" fill="#c01414"/>
<circle cx="341.2" cy="363.7" r="0.46" fill="#b01010"/>
<circle cx="342.4" cy="366.7" r="0.76" fill="#300303"/>
<circle cx="346.7" cy="362.7" r="0.42" fill="#d41c1c"/>
<circle cx="342.5" cy="363.3" r="0.79" fill="#d41c1c"/>
<circle cx="345.4" cy="364.5" r="0.51" fill="#dc2424"/>
<circle cx="337.2" cy="363.5" r="0.73" fill="#dc2424"/>
<circle cx="347.0" cy="361.5" r="0.58" fill="#d41c1c"/>
<circle cx="343.2" cy="362.2" r="0.83" fill="#b01010"/>
<circle cx="343.8" cy="373.4" r="0.65" fill="#d41c1c"/>
<circle cx="332.6" cy="366.2" r="0.69" fill="#300303"/>
<circle cx="347.9" cy="363.7" r="0.64" fill="#c01414"/>
<circle cx="337.8" cy="368.0" r="0.85" fill="#c01414"/>
<circle cx="333.2" cy="361.9" r="0.51" fill="#dc2424"/>
<circle cx="344.1" cy="369.8" r="0.63" fill="#c01414"/>
<circle cx="339.7" cy="361.2" r="0.76" fill="#c01414"/>
<circle cx="345.6" cy="369.4" r="0.73" fill="#420505"/>
<circle cx="346.4" cy="363.1" r="0.41" fill="#d41c1c"/>
<circle cx="334.8" cy="361.7" r="0.88" fill="#c01414"/>
<circle cx="343.3" cy="363.0" r="0.63" fill="#420505"/>
<circle cx="345.2" cy="373.6" r="0.71" fill="#c01414"/>
<circle cx="335.6" cy="368.8" r="0.79" fill="#b01010"/>
<circle cx="330.5" cy="363.9" r="0.83" fill="#560707"/>
<circle cx="339.8" cy="366.3" r="0.69" fill="#b01010"/>
<circle cx="344.0" cy="366.6" r="0.70" fill="#300303"/>
<circle cx="345.9" cy="363.7" r="0.56" fill="#d41c1c"/>
<circle cx="339.6" cy="369.4" r="0.54" fill="#d41c1c"/>
<circle cx="344.9" cy="371.4" r="0.54" fill="#c01414"/>
<circle cx="344.4" cy="362.7" r="0.57" fill="#420505"/>
<circle cx="345.3" cy="369.3" r="0.79" fill="#c01414"/>
<circle cx="338.6" cy="361.1" r="0.74" fill="#d41c1c"/>
<circle cx="336.4" cy="367.6" r="0.80" fill="#d41c1c"/>
<circle cx="337.6" cy="367.4" r="0.52" fill="#dc2424"/>
<circle cx="333.2" cy="364.3" r="0.56" fill="#ea3434"/>
<circle cx="336.3" cy="366.9" r="0.49" fill="#dc2424"/>
<circle cx="338.5" cy="363.6" r="0.79" fill="#300303"/>
<circle cx="342.5" cy="364.7" r="0.59" fill="#420505"/>
<circle cx="345.1" cy="370.0" r="0.56" fill="#c01414"/>
<circle cx="344.3" cy="367.6" r="0.42" fill="#dc2424"/>
<circle cx="347.6" cy="366.7" r="0.53" fill="#c01414"/>
<circle cx="341.0" cy="363.1" r="0.53" fill="#c01414"/>
<circle cx="343.6" cy="367.6" r="0.41" fill="#dc2424"/>
<circle cx="344.9" cy="367.8" r="0.87" fill="#420505"/>
<circle cx="341.8" cy="366.2" r="0.86" fill="#300303"/>
<circle cx="339.3" cy="365.3" r="0.72" fill="#c01414"/>
<circle cx="346.5" cy="365.7" r="0.82" fill="#420505"/>
<circle cx="337.3" cy="369.1" r="0.42" fill="#c01414"/>
<circle cx="339.8" cy="370.6" r="0.82" fill="#d41c1c"/>
<circle cx="347.0" cy="368.5" r="0.43" fill="#420505"/>
<circle cx="344.4" cy="371.1" r="0.69" fill="#b01010"/>
<circle cx="333.8" cy="368.7" r="0.53" fill="#560707"/>
<circle cx="344.0" cy="369.9" r="0.80" fill="#c01414"/>
<circle cx="346.6" cy="364.1" r="0.80" fill="#c01414"/>
<circle cx="345.3" cy="372.9" r="0.84" fill="#560707"/>
<circle cx="346.6" cy="372.8" r="0.71" fill="#d41c1c"/>
<circle cx="335.4" cy="368.0" r="0.46" fill="#420505"/>
</g></g>
<g clip-path="url(#c3)"><g filter="url(#bl)" transform="rotate(0 255.3 433.2)">
<polygon points="261.8,433.2 261.1,436.0 259.8,438.9 256.7,439.2 253.8,439.7 250.6,439.1 249.3,436.1 249.2,433.2 249.3,430.3 251.4,428.3 254.0,427.5 256.8,426.4 259.3,428.2 262.0,430.0" fill="#8e0d0d"/>
<circle cx="255.1" cy="435.4" r="0.46" fill="#420505"/>
<circle cx="256.9" cy="433.0" r="0.68" fill="#c01414"/>
<circle cx="256.5" cy="431.2" r="0.62" fill="#560707"/>
<circle cx="255.1" cy="436.5" r="0.54" fill="#300303"/>
<circle cx="256.6" cy="432.2" r="0.47" fill="#b01010"/>
<circle cx="252.4" cy="429.7" r="0.47" fill="#ea3434"/>
<circle cx="261.5" cy="433.3" r="0.58" fill="#c01414"/>
<circle cx="259.5" cy="434.3" r="0.47" fill="#c01414"/>
<circle cx="257.8" cy="438.6" r="0.70" fill="#c01414"/>
<circle cx="258.4" cy="427.6" r="0.49" fill="#b01010"/>
<circle cx="258.9" cy="437.4" r="0.69" fill="#c01414"/>
<circle cx="255.8" cy="434.9" r="0.82" fill="#300303"/>
<circle cx="259.5" cy="430.7" r="0.82" fill="#b01010"/>
<circle cx="260.9" cy="426.8" r="0.47" fill="#420505"/>
<circle cx="253.6" cy="430.3" r="0.42" fill="#560707"/>
<circle cx="253.8" cy="428.3" r="0.66" fill="#560707"/>
<circle cx="247.6" cy="435.9" r="0.79" fill="#560707"/>
<circle cx="258.8" cy="429.4" r="0.84" fill="#b01010"/>
<circle cx="259.9" cy="431.8" r="0.80" fill="#ea3434"/>
<circle cx="260.6" cy="439.2" r="0.45" fill="#c01414"/>
<circle cx="255.3" cy="440.2" r="0.53" fill="#c01414"/>
<circle cx="258.1" cy="428.6" r="0.75" fill="#c01414"/>
<circle cx="260.4" cy="437.0" r="0.54" fill="#d41c1c"/>
<circle cx="250.2" cy="434.3" r="0.46" fill="#dc2424"/>
<circle cx="253.2" cy="434.6" r="0.47" fill="#c01414"/>
<circle cx="250.0" cy="430.6" r="0.87" fill="#d41c1c"/>
<circle cx="251.9" cy="436.0" r="0.42" fill="#ea3434"/>
<circle cx="256.8" cy="432.9" r="0.52" fill="#300303"/>
<circle cx="253.0" cy="437.1" r="0.81" fill="#560707"/>
<circle cx="256.2" cy="431.9" r="0.52" fill="#560707"/>
<circle cx="250.5" cy="435.7" r="0.49" fill="#ea3434"/>
<circle cx="253.9" cy="435.9" r="0.47" fill="#c01414"/>
<circle cx="261.2" cy="432.1" r="0.80" fill="#d41c1c"/>
<circle cx="261.3" cy="427.9" r="0.86" fill="#b01010"/>
<circle cx="251.5" cy="429.4" r="0.71" fill="#d41c1c"/>
<circle cx="255.3" cy="438.1" r="0.54" fill="#d41c1c"/>
<circle cx="252.6" cy="440.7" r="0.85" fill="#ea3434"/>
<circle cx="259.8" cy="435.8" r="0.46" fill="#420505"/>
<circle cx="257.8" cy="435.9" r="0.54" fill="#b01010"/>
<circle cx="254.8" cy="427.4" r="0.70" fill="#420505"/>
<circle cx="250.3" cy="430.9" r="0.63" fill="#560707"/>
<circle cx="250.2" cy="431.6" r="0.42" fill="#b01010"/>
<circle cx="253.8" cy="435.8" r="0.41" fill="#300303"/>
<circle cx="251.5" cy="438.2" r="0.56" fill="#ea3434"/>
<circle cx="254.5" cy="439.5" r="0.79" fill="#d41c1c"/>
<circle cx="256.3" cy="434.7" r="0.73" fill="#420505"/>
<circle cx="249.1" cy="432.5" r="0.66" fill="#dc2424"/>
<circle cx="260.9" cy="432.8" r="0.57" fill="#300303"/>
<circle cx="251.9" cy="437.7" r="0.81" fill="#b01010"/>
<circle cx="249.5" cy="432.5" r="0.53" fill="#420505"/>
<circle cx="251.6" cy="429.2" r="0.84" fill="#300303"/>
<circle cx="261.2" cy="433.4" r="0.60" fill="#420505"/>
<circle cx="257.9" cy="433.1" r="0.84" fill="#b01010"/>
<circle cx="252.0" cy="430.6" r="0.54" fill="#420505"/>
<circle cx="252.9" cy="436.4" r="0.72" fill="#300303"/>
<circle cx="261.2" cy="433.4" r="0.62" fill="#300303"/>
<circle cx="256.8" cy="436.6" r="0.69" fill="#300303"/>
<circle cx="260.9" cy="436.6" r="0.88" fill="#c01414"/>
<circle cx="256.6" cy="437.5" r="0.41" fill="#d41c1c"/>
<circle cx="255.0" cy="439.6" r="0.79" fill="#ea3434"/>
</g></g>
<g clip-path="url(#c4)"><g filter="url(#bl)" transform="rotate(18 318.0 433.4)">
<polygon points="330.8,433.4 332.2,438.3 325.9,440.5 320.8,442.3 314.9,443.0 310.6,440.0 307.5,437.0 304.8,433.4 307.5,429.8 308.4,424.8 314.9,423.9 320.8,424.5 324.3,427.8 328.6,429.7" fill="#6a0909"/>
<circle cx="310.3" cy="437.3" r="0.88" fill="#c01414"/>
<circle cx="309.7" cy="433.9" r="0.75" fill="#560707"/>
<circle cx="317.9" cy="430.7" r="0.89" fill="#560707"/>
<circle cx="325.2" cy="423.4" r="0.81" fill="#560707"/>
<circle cx="329.9" cy="432.9" r="0.66" fill="#c01414"/>
<circle cx="320.3" cy="429.6" r="0.49" fill="#300303"/>
<circle cx="311.3" cy="428.3" r="0.75" fill="#d41c1c"/>
<circle cx="318.7" cy="433.4" r="0.40" fill="#ea3434"/>
<circle cx="314.1" cy="441.2" r="0.50" fill="#d41c1c"/>
<circle cx="308.6" cy="433.5" r="0.66" fill="#ea3434"/>
<circle cx="321.5" cy="436.5" r="0.48" fill="#c01414"/>
<circle cx="318.8" cy="424.0" r="0.65" fill="#ea3434"/>
<circle cx="309.9" cy="434.6" r="0.74" fill="#d41c1c"/>
<circle cx="313.8" cy="431.8" r="0.48" fill="#b01010"/>
<circle cx="317.6" cy="436.2" r="0.57" fill="#dc2424"/>
<circle cx="303.0" cy="436.9" r="0.62" fill="#d41c1c"/>
<circle cx="306.4" cy="425.6" r="0.56" fill="#c01414"/>
<circle cx="327.2" cy="428.6" r="0.88" fill="#b01010"/>
<circle cx="305.7" cy="433.6" r="0.74" fill="#300303"/>
<circle cx="311.0" cy="430.5" r="0.41" fill="#420505"/>
<circle cx="320.5" cy="431.4" r="0.49" fill="#300303"/>
<circle cx="324.7" cy="432.5" r="0.57" fill="#dc2424"/>
<circle cx="323.0" cy="429.6" r="0.61" fill="#dc2424"/>
<circle cx="326.0" cy="429.9" r="0.54" fill="#420505"/>
<circle cx="318.2" cy="435.1" r="0.80" fill="#560707"/>
<circle cx="318.2" cy="436.6" r="0.82" fill="#ea3434"/>
<circle cx="323.8" cy="437.7" r="0.48" fill="#c01414"/>
<circle cx="311.5" cy="439.5" r="0.55" fill="#c01414"/>
<circle cx="312.4" cy="434.0" r="0.87" fill="#c01414"/>
<circle cx="327.7" cy="433.3" r="0.67" fill="#560707"/>
<circle cx="305.4" cy="439.6" r="0.45" fill="#ea3434"/>
<circle cx="324.5" cy="427.2" r="0.73" fill="#d41c1c"/>
<circle cx="311.6" cy="431.3" r="0.75" fill="#dc2424"/>
<circle cx="319.0" cy="429.1" r="0.43" fill="#dc2424"/>
<circle cx="327.7" cy="429.2" r="0.43" fill="#c01414"/>
<circle cx="312.3" cy="443.4" r="0.58" fill="#b01010"/>
<circle cx="322.8" cy="428.3" r="0.87" fill="#c01414"/>
<circle cx="321.4" cy="438.3" r="0.85" fill="#560707"/>
<circle cx="328.4" cy="434.6" r="0.58" fill="#300303"/>
<circle cx="307.1" cy="425.2" r="0.76" fill="#c01414"/>
<circle cx="320.4" cy="433.9" r="0.78" fill="#c01414"/>
<circle cx="324.0" cy="439.8" r="0.68" fill="#c01414"/>
<circle cx="319.2" cy="439.7" r="0.74" fill="#300303"/>
<circle cx="304.4" cy="428.4" r="0.85" fill="#b01010"/>
<circle cx="324.8" cy="428.5" r="0.74" fill="#c01414"/>
<circle cx="324.9" cy="434.6" r="0.77" fill="#560707"/>
<circle cx="327.0" cy="437.3" r="0.54" fill="#c01414"/>
<circle cx="328.4" cy="438.1" r="0.75" fill="#560707"/>
<circle cx="317.2" cy="425.2" r="0.65" fill="#420505"/>
<circle cx="315.5" cy="429.7" r="0.64" fill="#c01414"/>
<circle cx="322.6" cy="441.6" r="0.53" fill="#ea3434"/>
<circle cx="306.1" cy="430.9" r="0.53" fill="#ea3434"/>
<circle cx="323.0" cy="432.6" r="0.50" fill="#dc2424"/>
<circle cx="316.3" cy="436.5" r="0.52" fill="#420505"/>
<circle cx="318.5" cy="439.9" r="0.75" fill="#560707"/>
<circle cx="325.1" cy="439.0" r="0.57" fill="#c01414"/>
<circle cx="321.7" cy="427.3" r="0.74" fill="#c01414"/>
<circle cx="325.0" cy="440.8" r="0.82" fill="#300303"/>
<circle cx="323.1" cy="436.6" r="0.42" fill="#c01414"/>
<circle cx="328.9" cy="427.4" r="0.48" fill="#dc2424"/>
<circle cx="309.1" cy="435.7" r="0.44" fill="#ea3434"/>
<circle cx="330.5" cy="434.0" r="0.77" fill="#dc2424"/>
<circle cx="312.7" cy="440.1" r="0.88" fill="#420505"/>
<circle cx="306.9" cy="434.0" r="0.86" fill="#560707"/>
<circle cx="311.9" cy="427.8" r="0.73" fill="#b01010"/>
<circle cx="330.3" cy="438.1" r="0.55" fill="#c01414"/>
<circle cx="322.0" cy="440.0" r="0.45" fill="#c01414"/>
<circle cx="316.6" cy="428.5" r="0.49" fill="#300303"/>
<circle cx="321.2" cy="428.9" r="0.86" fill="#ea3434"/>
<circle cx="324.8" cy="425.5" r="0.85" fill="#300303"/>
<circle cx="326.3" cy="431.3" r="0.90" fill="#c01414"/>
<circle cx="310.0" cy="429.1" r="0.48" fill="#c01414"/>
<circle cx="306.1" cy="436.6" r="0.64" fill="#420505"/>
<circle cx="320.9" cy="443.7" r="0.61" fill="#ea3434"/>
<circle cx="315.9" cy="440.6" r="0.85" fill="#300303"/>
<circle cx="319.1" cy="433.7" r="0.85" fill="#c01414"/>
<circle cx="321.5" cy="437.6" r="0.68" fill="#560707"/>
<circle cx="308.9" cy="434.7" r="0.89" fill="#300303"/>
<circle cx="327.8" cy="428.9" r="0.81" fill="#dc2424"/>
<circle cx="327.6" cy="436.1" r="0.68" fill="#b01010"/>
<circle cx="311.3" cy="436.0" r="0.55" fill="#c01414"/>
<circle cx="310.7" cy="441.3" r="0.75" fill="#420505"/>
<circle cx="323.8" cy="438.9" r="0.58" fill="#300303"/>
<circle cx="318.5" cy="439.4" r="0.49" fill="#c01414"/>
<circle cx="330.1" cy="426.3" r="0.72" fill="#b01010"/>
<circle cx="321.9" cy="440.2" r="0.68" fill="#c01414"/>
<circle cx="320.1" cy="443.6" r="0.83" fill="#dc2424"/>
<circle cx="311.8" cy="424.1" r="0.76" fill="#ea3434"/>
<circle cx="318.2" cy="430.4" r="0.45" fill="#ea3434"/>
<circle cx="321.8" cy="428.5" r="0.68" fill="#c01414"/>
<circle cx="318.7" cy="430.1" r="0.60" fill="#d41c1c"/>
<circle cx="320.5" cy="433.9" r="0.63" fill="#c01414"/>
<circle cx="321.4" cy="435.7" r="0.71" fill="#dc2424"/>
<circle cx="324.6" cy="428.5" r="0.48" fill="#560707"/>
<circle cx="317.8" cy="428.1" r="0.81" fill="#d41c1c"/>
<circle cx="323.5" cy="437.2" r="0.76" fill="#560707"/>
<circle cx="332.0" cy="436.2" r="0.42" fill="#dc2424"/>
<circle cx="323.2" cy="431.0" r="0.41" fill="#420505"/>
<circle cx="326.3" cy="433.0" r="0.46" fill="#420505"/>
<circle cx="319.7" cy="429.7" r="0.84" fill="#b01010"/>
<circle cx="312.4" cy="426.2" r="0.67" fill="#b01010"/>
<circle cx="313.8" cy="425.9" r="0.41" fill="#d41c1c"/>
<circle cx="326.8" cy="433.2" r="0.80" fill="#d41c1c"/>
<circle cx="323.2" cy="434.2" r="0.82" fill="#300303"/>
<circle cx="328.3" cy="431.9" r="0.84" fill="#c01414"/>
<circle cx="315.3" cy="431.8" r="0.56" fill="#c01414"/>
<circle cx="324.8" cy="438.6" r="0.76" fill="#560707"/>
<circle cx="313.8" cy="438.8" r="0.40" fill="#560707"/>
<circle cx="305.5" cy="428.6" r="0.72" fill="#d41c1c"/>
<circle cx="317.3" cy="430.0" r="0.65" fill="#dc2424"/>
<circle cx="317.3" cy="440.2" r="0.90" fill="#c01414"/>
<circle cx="327.2" cy="434.8" r="0.79" fill="#c01414"/>
<circle cx="311.3" cy="428.1" r="0.80" fill="#b01010"/>
<circle cx="318.8" cy="441.4" r="0.55" fill="#dc2424"/>
<circle cx="318.9" cy="425.7" r="0.58" fill="#c01414"/>
<circle cx="304.9" cy="430.3" r="0.84" fill="#560707"/>
<circle cx="319.8" cy="427.1" r="0.90" fill="#c01414"/>
<circle cx="321.3" cy="436.7" r="0.60" fill="#420505"/>
<circle cx="309.2" cy="438.2" r="0.47" fill="#dc2424"/>
<circle cx="316.8" cy="429.0" r="0.44" fill="#560707"/>
<circle cx="322.4" cy="441.5" r="0.69" fill="#b01010"/>
<circle cx="325.5" cy="433.0" r="0.76" fill="#300303"/>
<circle cx="328.2" cy="429.5" r="0.54" fill="#c01414"/>
<circle cx="317.9" cy="434.8" r="0.52" fill="#b01010"/>
<circle cx="320.7" cy="433.6" r="0.83" fill="#b01010"/>
<circle cx="314.7" cy="430.2" r="0.70" fill="#c01414"/>
<circle cx="328.0" cy="437.3" r="0.76" fill="#560707"/>
<circle cx="324.6" cy="433.5" r="0.72" fill="#d41c1c"/>
<circle cx="323.1" cy="431.5" r="0.72" fill="#d41c1c"/>
<circle cx="309.4" cy="437.6" r="0.83" fill="#d41c1c"/>
<circle cx="319.1" cy="430.9" r="0.89" fill="#420505"/>
<circle cx="308.1" cy="438.5" r="0.86" fill="#d41c1c"/>
<circle cx="304.4" cy="429.3" r="0.48" fill="#560707"/>
<circle cx="323.7" cy="433.9" r="0.58" fill="#dc2424"/>
<circle cx="313.2" cy="437.4" r="0.48" fill="#ea3434"/>
<circle cx="327.5" cy="432.6" r="0.81" fill="#b01010"/>
<circle cx="315.8" cy="433.6" r="0.89" fill="#ea3434"/>
<circle cx="311.6" cy="434.8" r="0.47" fill="#b01010"/>
<circle cx="326.7" cy="433.8" r="0.48" fill="#560707"/>
<circle cx="312.5" cy="429.3" r="0.71" fill="#d41c1c"/>
<circle cx="324.7" cy="438.0" r="0.53" fill="#c01414"/>
<circle cx="309.5" cy="428.6" r="0.66" fill="#c01414"/>
<circle cx="311.7" cy="439.5" r="0.51" fill="#420505"/>
<circle cx="328.2" cy="428.9" r="0.56" fill="#c01414"/>
<circle cx="321.4" cy="431.7" r="0.80" fill="#dc2424"/>
<circle cx="326.9" cy="429.6" r="0.68" fill="#c01414"/>
<circle cx="307.8" cy="438.0" r="0.42" fill="#c01414"/>
<circle cx="328.5" cy="434.4" r="0.50" fill="#560707"/>
<circle cx="318.6" cy="426.2" r="0.51" fill="#420505"/>
<circle cx="313.5" cy="431.9" r="0.88" fill="#b01010"/>
</g></g>
<rect x="285.70" y="338.2" width="1.4" height="126.20" fill="#fff"/>
<rect x="224.1" y="399.80" width="125.70" height="1.4" fill="#fff"/>
<rect x="311.9" y="457.5" width="33.0" height="2.9" fill="#fff"/>
<text x="378.40" y="340.30" font-size="18" text-anchor="start" font-weight="bold" fill="#050505" stroke="#050505" stroke-width="0" letter-spacing="0.5">(k)</text>
<line x1="413.40" y1="354.25" x2="413.40" y2="446.15" stroke="#111" stroke-width="1.0" />
<line x1="411.40" y1="446.60" x2="413.40" y2="446.60" stroke="#111" stroke-width="0.9" />
<text x="410.40" y="449.45" font-size="6.2" text-anchor="end" font-weight="normal" fill="#111" stroke="#111" stroke-width="0.25" >0</text>
<line x1="411.40" y1="415.67" x2="413.40" y2="415.67" stroke="#111" stroke-width="0.9" />
<text x="410.40" y="418.52" font-size="6.2" text-anchor="end" font-weight="normal" fill="#111" stroke="#111" stroke-width="0.25" >50</text>
<line x1="411.40" y1="384.73" x2="413.40" y2="384.73" stroke="#111" stroke-width="0.9" />
<text x="410.40" y="387.58" font-size="6.2" text-anchor="end" font-weight="normal" fill="#111" stroke="#111" stroke-width="0.25" >100</text>
<line x1="411.40" y1="353.80" x2="413.40" y2="353.80" stroke="#111" stroke-width="0.9" />
<text x="410.40" y="356.65" font-size="6.2" text-anchor="end" font-weight="normal" fill="#111" stroke="#111" stroke-width="0.25" >150</text>
<line x1="412.95" y1="446.60" x2="550.10" y2="446.60" stroke="#111" stroke-width="1.0" />
<line x1="449.60" y1="446.60" x2="449.60" y2="449.40" stroke="#111" stroke-width="0.9" />
<text x="449.60" y="456.00" font-size="6.6" text-anchor="middle" font-weight="normal" fill="#111" stroke="#111" stroke-width="0.22" >CTL</text>
<line x1="520.30" y1="446.60" x2="520.30" y2="449.40" stroke="#111" stroke-width="0.9" />
<text x="520.30" y="456.00" font-size="6.6" text-anchor="middle" font-weight="normal" fill="#111" stroke="#111" stroke-width="0.22" >DM</text>
<text x="393.60" y="399.50" font-size="7.7" text-anchor="middle" font-weight="normal" fill="#111" stroke="#111" stroke-width="0.24" transform="rotate(-90 393.60 399.50)" >Insulin positive area(%)</text>
<line x1="437.50" y1="384.60" x2="437.50" y2="364.30" stroke="#111" stroke-width="0.8" />
<line x1="431.65" y1="364.30" x2="443.35" y2="364.30" stroke="#111" stroke-width="0.8" />
<rect x="425.80" y="384.60" width="23.40" height="62.00" fill="#fff" stroke="#111" stroke-width="0.9" />
<line x1="461.10" y1="383.00" x2="461.10" y2="371.80" stroke="#111" stroke-width="0.8" />
<line x1="455.25" y1="371.80" x2="466.95" y2="371.80" stroke="#111" stroke-width="0.8" />
<rect x="449.40" y="383.00" width="23.40" height="63.60" fill="#333" stroke="#111" stroke-width="0.9" />
<line x1="508.00" y1="439.70" x2="508.00" y2="434.80" stroke="#111" stroke-width="0.8" />
<line x1="502.15" y1="434.80" x2="513.85" y2="434.80" stroke="#111" stroke-width="0.8" />
<rect x="496.30" y="439.70" width="23.40" height="6.90" fill="#fff" stroke="#111" stroke-width="0.9" />
<line x1="531.70" y1="401.30" x2="531.70" y2="384.90" stroke="#111" stroke-width="0.8" />
<line x1="525.85" y1="384.90" x2="537.55" y2="384.90" stroke="#111" stroke-width="0.8" />
<rect x="520.00" y="401.30" width="23.40" height="45.30" fill="#333" stroke="#111" stroke-width="0.9" />
<rect x="495.20" y="352.80" width="9.00" height="4.40" fill="#fff" stroke="#111" stroke-width="0.9" />
<text x="510.20" y="357.50" font-size="7.0" text-anchor="start" font-weight="normal" fill="#111" stroke="#111" stroke-width="0.24" >WT</text>
<rect x="495.20" y="362.80" width="9.00" height="4.40" fill="#333" stroke="#111" stroke-width="0.9" />
<text x="510.20" y="367.50" font-size="7.0" text-anchor="start" font-weight="normal" fill="#111" stroke="#111" stroke-width="0.24" letter-spacing="0.45">TonEBP(+/-)</text>
<text x="508.20" y="435.07" font-size="7.6" text-anchor="middle" font-weight="normal" fill="#222" stroke="#222" stroke-width="0.3" >*</text>
<text x="531.80" y="381.22" font-size="9.4" text-anchor="middle" font-weight="normal" fill="#222" stroke="#222" stroke-width="0.18" >†</text>
</svg>
</body></html>
